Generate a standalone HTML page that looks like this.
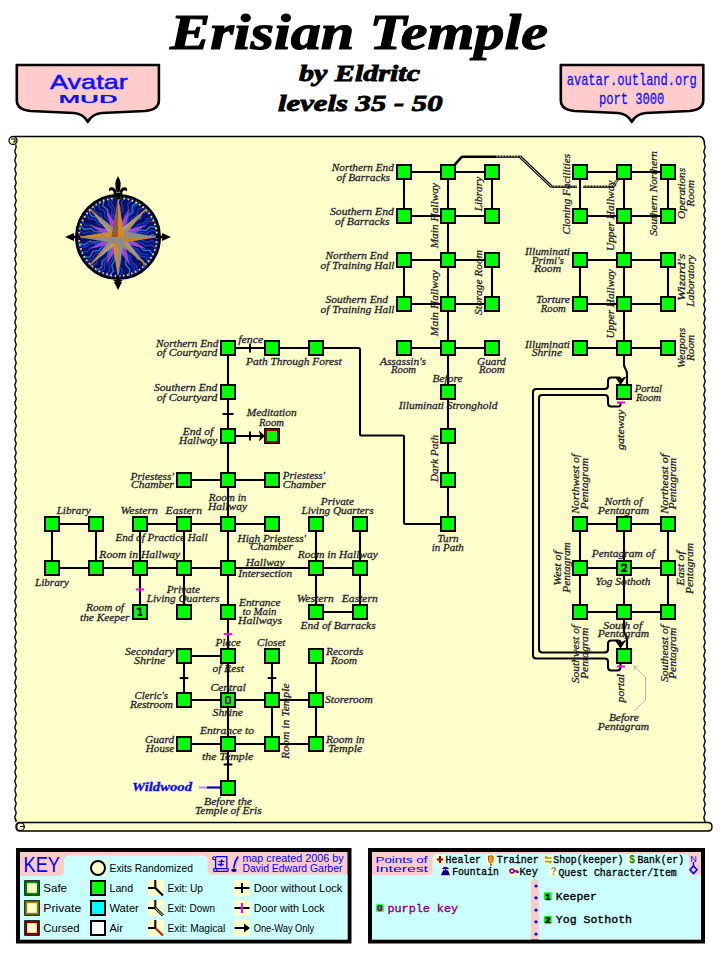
<!DOCTYPE html><html><head><meta charset="utf-8"><style>html,body{margin:0;padding:0;background:#fff;}svg{display:block}</style></head><body>
<svg width="720" height="960" viewBox="0 0 720 960">
<text x="170" y="48.6" font-family='"Liberation Serif", serif' font-size="50" font-style="italic" font-weight="bold" fill="#000" stroke="#000" stroke-width="1.1" textLength="378" lengthAdjust="spacingAndGlyphs">Erisian Temple</text>
<text x="299" y="80.5" font-family='"Liberation Serif", serif' font-size="24" font-style="italic" font-weight="bold" fill="#000" stroke="#000" stroke-width="0.9" textLength="121" lengthAdjust="spacingAndGlyphs">by Eldritc</text>
<text x="278" y="111" font-family='"Liberation Serif", serif' font-size="24" font-style="italic" font-weight="bold" fill="#000" stroke="#000" stroke-width="0.9" textLength="164.5" lengthAdjust="spacingAndGlyphs">levels 35 - 50</text>
<path d="M16.8,65 L158.9,65 L158.9,100 Q158.9,110 144.9,111 L101.8,113 Q91.8,114 87.8,122 Q83.8,114 73.8,113 L30.8,111 Q16.8,110 16.8,100 Z" fill="#ffcccc" stroke="#000" stroke-width="2.6" stroke-linejoin="round"/>
<path d="M560.8,65 L703.3,65 L703.3,100 Q703.3,110 689.3,111 L645.8,113 Q635.8,114 631.8,122 Q627.8,114 617.8,113 L574.8,111 Q560.8,110 560.8,100 Z" fill="#ffcccc" stroke="#000" stroke-width="2.6" stroke-linejoin="round"/>
<text x="50" y="89.4" font-family='"Liberation Sans", sans-serif' font-size="21" fill="#1010ff" stroke="#1010ff" stroke-width="0.5" textLength="77.8" lengthAdjust="spacingAndGlyphs">Avatar</text>
<text x="58.4" y="103.4" font-family='"Liberation Sans", sans-serif' font-size="11.6" font-weight="bold" fill="#1010ff" textLength="59.4" lengthAdjust="spacingAndGlyphs">MUD</text>
<text x="566.7" y="85" font-family='"Liberation Mono", monospace' font-size="17" fill="#1010ff" stroke="#1010ff" stroke-width="0.3" textLength="130" lengthAdjust="spacingAndGlyphs">avatar.outland.org</text>
<text x="598.9" y="103.9" font-family='"Liberation Mono", monospace' font-size="17" fill="#1010ff" stroke="#1010ff" stroke-width="0.3" textLength="65.5" lengthAdjust="spacingAndGlyphs">port 3000</text>
<path d="M15.5,136 L700,136 Q704.5,136 704.5,142 L704.5,822 L15.5,822 Z" fill="#ffffcc"/>
<line x1="15" y1="136.5" x2="700" y2="136.5" stroke="#000" stroke-width="1.6"/>
<path d="M700,136.5 Q704.5,137 704.5,145" fill="none" stroke="#000" stroke-width="1.6"/>
<path d="M15.5,144.5 Q16.7,146.75 15.5,149.0 Q14.3,151.25 15.5,153.5 Q16.7,155.75 15.5,158.0 Q14.3,160.25 15.5,162.5 Q16.7,164.75 15.5,167.0 Q14.3,169.25 15.5,171.5 Q16.7,173.75 15.5,176.0 Q14.3,178.25 15.5,180.5 Q16.7,182.75 15.5,185.0 Q14.3,187.25 15.5,189.5 Q16.7,191.75 15.5,194.0 Q14.3,196.25 15.5,198.5 Q16.7,200.75 15.5,203.0 Q14.3,205.25 15.5,207.5 Q16.7,209.75 15.5,212.0 Q14.3,214.25 15.5,216.5 Q16.7,218.75 15.5,221.0 Q14.3,223.25 15.5,225.5 Q16.7,227.75 15.5,230.0 Q14.3,232.25 15.5,234.5 Q16.7,236.75 15.5,239.0 Q14.3,241.25 15.5,243.5 Q16.7,245.75 15.5,248.0 Q14.3,250.25 15.5,252.5 Q16.7,254.75 15.5,257.0 Q14.3,259.25 15.5,261.5 Q16.7,263.75 15.5,266.0 Q14.3,268.25 15.5,270.5 Q16.7,272.75 15.5,275.0 Q14.3,277.25 15.5,279.5 Q16.7,281.75 15.5,284.0 Q14.3,286.25 15.5,288.5 Q16.7,290.75 15.5,293.0 Q14.3,295.25 15.5,297.5 Q16.7,299.75 15.5,302.0 Q14.3,304.25 15.5,306.5 Q16.7,308.75 15.5,311.0 Q14.3,313.25 15.5,315.5 Q16.7,317.75 15.5,320.0 Q14.3,322.25 15.5,324.5 Q16.7,326.75 15.5,329.0 Q14.3,331.25 15.5,333.5 Q16.7,335.75 15.5,338.0 Q14.3,340.25 15.5,342.5 Q16.7,344.75 15.5,347.0 Q14.3,349.25 15.5,351.5 Q16.7,353.75 15.5,356.0 Q14.3,358.25 15.5,360.5 Q16.7,362.75 15.5,365.0 Q14.3,367.25 15.5,369.5 Q16.7,371.75 15.5,374.0 Q14.3,376.25 15.5,378.5 Q16.7,380.75 15.5,383.0 Q14.3,385.25 15.5,387.5 Q16.7,389.75 15.5,392.0 Q14.3,394.25 15.5,396.5 Q16.7,398.75 15.5,401.0 Q14.3,403.25 15.5,405.5 Q16.7,407.75 15.5,410.0 Q14.3,412.25 15.5,414.5 Q16.7,416.75 15.5,419.0 Q14.3,421.25 15.5,423.5 Q16.7,425.75 15.5,428.0 Q14.3,430.25 15.5,432.5 Q16.7,434.75 15.5,437.0 Q14.3,439.25 15.5,441.5 Q16.7,443.75 15.5,446.0 Q14.3,448.25 15.5,450.5 Q16.7,452.75 15.5,455.0 Q14.3,457.25 15.5,459.5 Q16.7,461.75 15.5,464.0 Q14.3,466.25 15.5,468.5 Q16.7,470.75 15.5,473.0 Q14.3,475.25 15.5,477.5 Q16.7,479.75 15.5,482.0 Q14.3,484.25 15.5,486.5 Q16.7,488.75 15.5,491.0 Q14.3,493.25 15.5,495.5 Q16.7,497.75 15.5,500.0 Q14.3,502.25 15.5,504.5 Q16.7,506.75 15.5,509.0 Q14.3,511.25 15.5,513.5 Q16.7,515.75 15.5,518.0 Q14.3,520.25 15.5,522.5 Q16.7,524.75 15.5,527.0 Q14.3,529.25 15.5,531.5 Q16.7,533.75 15.5,536.0 Q14.3,538.25 15.5,540.5 Q16.7,542.75 15.5,545.0 Q14.3,547.25 15.5,549.5 Q16.7,551.75 15.5,554.0 Q14.3,556.25 15.5,558.5 Q16.7,560.75 15.5,563.0 Q14.3,565.25 15.5,567.5 Q16.7,569.75 15.5,572.0 Q14.3,574.25 15.5,576.5 Q16.7,578.75 15.5,581.0 Q14.3,583.25 15.5,585.5 Q16.7,587.75 15.5,590.0 Q14.3,592.25 15.5,594.5 Q16.7,596.75 15.5,599.0 Q14.3,601.25 15.5,603.5 Q16.7,605.75 15.5,608.0 Q14.3,610.25 15.5,612.5 Q16.7,614.75 15.5,617.0 Q14.3,619.25 15.5,621.5 Q16.7,623.75 15.5,626.0 Q14.3,628.25 15.5,630.5 Q16.7,632.75 15.5,635.0 Q14.3,637.25 15.5,639.5 Q16.7,641.75 15.5,644.0 Q14.3,646.25 15.5,648.5 Q16.7,650.75 15.5,653.0 Q14.3,655.25 15.5,657.5 Q16.7,659.75 15.5,662.0 Q14.3,664.25 15.5,666.5 Q16.7,668.75 15.5,671.0 Q14.3,673.25 15.5,675.5 Q16.7,677.75 15.5,680.0 Q14.3,682.25 15.5,684.5 Q16.7,686.75 15.5,689.0 Q14.3,691.25 15.5,693.5 Q16.7,695.75 15.5,698.0 Q14.3,700.25 15.5,702.5 Q16.7,704.75 15.5,707.0 Q14.3,709.25 15.5,711.5 Q16.7,713.75 15.5,716.0 Q14.3,718.25 15.5,720.5 Q16.7,722.75 15.5,725.0 Q14.3,727.25 15.5,729.5 Q16.7,731.75 15.5,734.0 Q14.3,736.25 15.5,738.5 Q16.7,740.75 15.5,743.0 Q14.3,745.25 15.5,747.5 Q16.7,749.75 15.5,752.0 Q14.3,754.25 15.5,756.5 Q16.7,758.75 15.5,761.0 Q14.3,763.25 15.5,765.5 Q16.7,767.75 15.5,770.0 Q14.3,772.25 15.5,774.5 Q16.7,776.75 15.5,779.0 Q14.3,781.25 15.5,783.5 Q16.7,785.75 15.5,788.0 Q14.3,790.25 15.5,792.5 Q16.7,794.75 15.5,797.0 Q14.3,799.25 15.5,801.5 Q16.7,803.75 15.5,806.0 Q14.3,808.25 15.5,810.5 Q16.7,812.75 15.5,815.0 Q14.3,817.25 15.5,819.5 Q16.7,820.75 15.5,822" fill="none" stroke="#000" stroke-width="1.4"/>
<path d="M704.5,145 Q705.7,147.25 704.5,149.5 Q703.3,151.75 704.5,154.0 Q705.7,156.25 704.5,158.5 Q703.3,160.75 704.5,163.0 Q705.7,165.25 704.5,167.5 Q703.3,169.75 704.5,172.0 Q705.7,174.25 704.5,176.5 Q703.3,178.75 704.5,181.0 Q705.7,183.25 704.5,185.5 Q703.3,187.75 704.5,190.0 Q705.7,192.25 704.5,194.5 Q703.3,196.75 704.5,199.0 Q705.7,201.25 704.5,203.5 Q703.3,205.75 704.5,208.0 Q705.7,210.25 704.5,212.5 Q703.3,214.75 704.5,217.0 Q705.7,219.25 704.5,221.5 Q703.3,223.75 704.5,226.0 Q705.7,228.25 704.5,230.5 Q703.3,232.75 704.5,235.0 Q705.7,237.25 704.5,239.5 Q703.3,241.75 704.5,244.0 Q705.7,246.25 704.5,248.5 Q703.3,250.75 704.5,253.0 Q705.7,255.25 704.5,257.5 Q703.3,259.75 704.5,262.0 Q705.7,264.25 704.5,266.5 Q703.3,268.75 704.5,271.0 Q705.7,273.25 704.5,275.5 Q703.3,277.75 704.5,280.0 Q705.7,282.25 704.5,284.5 Q703.3,286.75 704.5,289.0 Q705.7,291.25 704.5,293.5 Q703.3,295.75 704.5,298.0 Q705.7,300.25 704.5,302.5 Q703.3,304.75 704.5,307.0 Q705.7,309.25 704.5,311.5 Q703.3,313.75 704.5,316.0 Q705.7,318.25 704.5,320.5 Q703.3,322.75 704.5,325.0 Q705.7,327.25 704.5,329.5 Q703.3,331.75 704.5,334.0 Q705.7,336.25 704.5,338.5 Q703.3,340.75 704.5,343.0 Q705.7,345.25 704.5,347.5 Q703.3,349.75 704.5,352.0 Q705.7,354.25 704.5,356.5 Q703.3,358.75 704.5,361.0 Q705.7,363.25 704.5,365.5 Q703.3,367.75 704.5,370.0 Q705.7,372.25 704.5,374.5 Q703.3,376.75 704.5,379.0 Q705.7,381.25 704.5,383.5 Q703.3,385.75 704.5,388.0 Q705.7,390.25 704.5,392.5 Q703.3,394.75 704.5,397.0 Q705.7,399.25 704.5,401.5 Q703.3,403.75 704.5,406.0 Q705.7,408.25 704.5,410.5 Q703.3,412.75 704.5,415.0 Q705.7,417.25 704.5,419.5 Q703.3,421.75 704.5,424.0 Q705.7,426.25 704.5,428.5 Q703.3,430.75 704.5,433.0 Q705.7,435.25 704.5,437.5 Q703.3,439.75 704.5,442.0 Q705.7,444.25 704.5,446.5 Q703.3,448.75 704.5,451.0 Q705.7,453.25 704.5,455.5 Q703.3,457.75 704.5,460.0 Q705.7,462.25 704.5,464.5 Q703.3,466.75 704.5,469.0 Q705.7,471.25 704.5,473.5 Q703.3,475.75 704.5,478.0 Q705.7,480.25 704.5,482.5 Q703.3,484.75 704.5,487.0 Q705.7,489.25 704.5,491.5 Q703.3,493.75 704.5,496.0 Q705.7,498.25 704.5,500.5 Q703.3,502.75 704.5,505.0 Q705.7,507.25 704.5,509.5 Q703.3,511.75 704.5,514.0 Q705.7,516.25 704.5,518.5 Q703.3,520.75 704.5,523.0 Q705.7,525.25 704.5,527.5 Q703.3,529.75 704.5,532.0 Q705.7,534.25 704.5,536.5 Q703.3,538.75 704.5,541.0 Q705.7,543.25 704.5,545.5 Q703.3,547.75 704.5,550.0 Q705.7,552.25 704.5,554.5 Q703.3,556.75 704.5,559.0 Q705.7,561.25 704.5,563.5 Q703.3,565.75 704.5,568.0 Q705.7,570.25 704.5,572.5 Q703.3,574.75 704.5,577.0 Q705.7,579.25 704.5,581.5 Q703.3,583.75 704.5,586.0 Q705.7,588.25 704.5,590.5 Q703.3,592.75 704.5,595.0 Q705.7,597.25 704.5,599.5 Q703.3,601.75 704.5,604.0 Q705.7,606.25 704.5,608.5 Q703.3,610.75 704.5,613.0 Q705.7,615.25 704.5,617.5 Q703.3,619.75 704.5,622.0 Q705.7,624.25 704.5,626.5 Q703.3,628.75 704.5,631.0 Q705.7,633.25 704.5,635.5 Q703.3,637.75 704.5,640.0 Q705.7,642.25 704.5,644.5 Q703.3,646.75 704.5,649.0 Q705.7,651.25 704.5,653.5 Q703.3,655.75 704.5,658.0 Q705.7,660.25 704.5,662.5 Q703.3,664.75 704.5,667.0 Q705.7,669.25 704.5,671.5 Q703.3,673.75 704.5,676.0 Q705.7,678.25 704.5,680.5 Q703.3,682.75 704.5,685.0 Q705.7,687.25 704.5,689.5 Q703.3,691.75 704.5,694.0 Q705.7,696.25 704.5,698.5 Q703.3,700.75 704.5,703.0 Q705.7,705.25 704.5,707.5 Q703.3,709.75 704.5,712.0 Q705.7,714.25 704.5,716.5 Q703.3,718.75 704.5,721.0 Q705.7,723.25 704.5,725.5 Q703.3,727.75 704.5,730.0 Q705.7,732.25 704.5,734.5 Q703.3,736.75 704.5,739.0 Q705.7,741.25 704.5,743.5 Q703.3,745.75 704.5,748.0 Q705.7,750.25 704.5,752.5 Q703.3,754.75 704.5,757.0 Q705.7,759.25 704.5,761.5 Q703.3,763.75 704.5,766.0 Q705.7,768.25 704.5,770.5 Q703.3,772.75 704.5,775.0 Q705.7,777.25 704.5,779.5 Q703.3,781.75 704.5,784.0 Q705.7,786.25 704.5,788.5 Q703.3,790.75 704.5,793.0 Q705.7,795.25 704.5,797.5 Q703.3,799.75 704.5,802.0 Q705.7,804.25 704.5,806.5 Q703.3,808.75 704.5,811.0 Q705.7,813.25 704.5,815.5 Q703.3,817.75 704.5,820.0 Q705.7,821.0 704.5,822" fill="none" stroke="#000" stroke-width="1.4"/>
<circle cx="13" cy="140.5" r="4" fill="#ffffcc" stroke="#000" stroke-width="1.3"/>
<path d="M11,139 L15,139 L15,142 L13,142" fill="none" stroke="#000" stroke-width="1.1"/>
<path d="M18,822.5 L708,822.5 Q712,822.5 712,826.7 Q712,831 708,831 L20,831 Q16,831 16,826.7 Q16,822.5 20,822.5 Z" fill="#ffffcc" stroke="#000" stroke-width="1.4"/>
<circle cx="20.5" cy="826.7" r="3.8" fill="#ffffcc" stroke="#000" stroke-width="1.2"/>
<path d="M20,826.5 L24,826.5" stroke="#000" stroke-width="1.1"/>
<path d="M404,172 L492,172" fill="none" stroke="#000" stroke-width="2.1" stroke-linejoin="round"/>
<path d="M404,216 L492,216" fill="none" stroke="#000" stroke-width="2.1" stroke-linejoin="round"/>
<path d="M404,260 L492,260" fill="none" stroke="#000" stroke-width="2.1" stroke-linejoin="round"/>
<path d="M404,304 L492,304" fill="none" stroke="#000" stroke-width="2.1" stroke-linejoin="round"/>
<path d="M404,348 L492,348" fill="none" stroke="#000" stroke-width="2.1" stroke-linejoin="round"/>
<path d="M404,172 L404,216" fill="none" stroke="#000" stroke-width="2.1" stroke-linejoin="round"/>
<path d="M492,172 L492,216" fill="none" stroke="#000" stroke-width="2.1" stroke-linejoin="round"/>
<path d="M404,260 L404,304" fill="none" stroke="#000" stroke-width="2.1" stroke-linejoin="round"/>
<path d="M492,260 L492,304" fill="none" stroke="#000" stroke-width="2.1" stroke-linejoin="round"/>
<path d="M448,172 L448,348" fill="none" stroke="#000" stroke-width="2.1" stroke-linejoin="round"/>
<path d="M580,172 L668,172" fill="none" stroke="#000" stroke-width="2.1" stroke-linejoin="round"/>
<path d="M580,216 L668,216" fill="none" stroke="#000" stroke-width="2.1" stroke-linejoin="round"/>
<path d="M580,260 L668,260" fill="none" stroke="#000" stroke-width="2.1" stroke-linejoin="round"/>
<path d="M580,304 L668,304" fill="none" stroke="#000" stroke-width="2.1" stroke-linejoin="round"/>
<path d="M580,348 L668,348" fill="none" stroke="#000" stroke-width="2.1" stroke-linejoin="round"/>
<path d="M580,172 L580,216" fill="none" stroke="#000" stroke-width="2.1" stroke-linejoin="round"/>
<path d="M668,172 L668,216" fill="none" stroke="#000" stroke-width="2.1" stroke-linejoin="round"/>
<path d="M580,260 L580,304" fill="none" stroke="#000" stroke-width="2.1" stroke-linejoin="round"/>
<path d="M668,260 L668,304" fill="none" stroke="#000" stroke-width="2.1" stroke-linejoin="round"/>
<path d="M624,172 L624,348" fill="none" stroke="#000" stroke-width="2.1" stroke-linejoin="round"/>
<path d="M448,348 L448,524" fill="none" stroke="#000" stroke-width="2.1" stroke-linejoin="round"/>
<path d="M624,348 L624.00,364.50 Q624,366 624.67,367.34 L626.33,370.66 Q627,372 627.00,373.50 L627,386" fill="none" stroke="#000" stroke-width="2.1" stroke-linejoin="round"/>
<path d="M228,348 L314.80,348.00 Q316,348 317.20,348.00 L358.80,348.00 Q360,348 360.00,349.20 L360.00,434.30 Q360,435.5 361.20,435.50 L402.80,435.50 Q404,435.5 404.00,436.70 L404.00,522.80 Q404,524 405.20,524.00 L448,524" fill="none" stroke="#000" stroke-width="2.1" stroke-linejoin="round"/>
<path d="M228,348 L228,788" fill="none" stroke="#000" stroke-width="2.1" stroke-linejoin="round"/>
<path d="M228,436 L262,436" fill="none" stroke="#000" stroke-width="2.1" stroke-linejoin="round"/>
<path d="M184,480 L272,480" fill="none" stroke="#000" stroke-width="2.1" stroke-linejoin="round"/>
<path d="M52,524 L96,524" fill="none" stroke="#000" stroke-width="2.1" stroke-linejoin="round"/>
<path d="M140,524 L272,524" fill="none" stroke="#000" stroke-width="2.1" stroke-linejoin="round"/>
<path d="M316,524 L316,612" fill="none" stroke="#000" stroke-width="2.1" stroke-linejoin="round"/>
<path d="M360,524 L360,612" fill="none" stroke="#000" stroke-width="2.1" stroke-linejoin="round"/>
<path d="M52,524 L52,568" fill="none" stroke="#000" stroke-width="2.1" stroke-linejoin="round"/>
<path d="M96,524 L96,568" fill="none" stroke="#000" stroke-width="2.1" stroke-linejoin="round"/>
<path d="M140,524 L140,612" fill="none" stroke="#000" stroke-width="2.1" stroke-linejoin="round"/>
<path d="M184,524 L184,612" fill="none" stroke="#000" stroke-width="2.1" stroke-linejoin="round"/>
<path d="M52,568 L360,568" fill="none" stroke="#000" stroke-width="2.1" stroke-linejoin="round"/>
<path d="M316,612 L360,612" fill="none" stroke="#000" stroke-width="2.1" stroke-linejoin="round"/>
<path d="M184,656 L228,656" fill="none" stroke="#000" stroke-width="2.1" stroke-linejoin="round"/>
<path d="M184,656 L184,700" fill="none" stroke="#000" stroke-width="2.1" stroke-linejoin="round"/>
<path d="M272,656 L272,744" fill="none" stroke="#000" stroke-width="2.1" stroke-linejoin="round"/>
<path d="M316,656 L316,744" fill="none" stroke="#000" stroke-width="2.1" stroke-linejoin="round"/>
<path d="M184,700 L316,700" fill="none" stroke="#000" stroke-width="2.1" stroke-linejoin="round"/>
<path d="M184,744 L316,744" fill="none" stroke="#000" stroke-width="2.1" stroke-linejoin="round"/>
<path d="M580,524 L668,524" fill="none" stroke="#000" stroke-width="2.1" stroke-linejoin="round"/>
<path d="M580,568 L668,568" fill="none" stroke="#000" stroke-width="2.1" stroke-linejoin="round"/>
<path d="M580,612 L668,612" fill="none" stroke="#000" stroke-width="2.1" stroke-linejoin="round"/>
<path d="M580,524 L580,612" fill="none" stroke="#000" stroke-width="2.1" stroke-linejoin="round"/>
<path d="M624,524 L624,612" fill="none" stroke="#000" stroke-width="2.1" stroke-linejoin="round"/>
<path d="M668,524 L668,612" fill="none" stroke="#000" stroke-width="2.1" stroke-linejoin="round"/>
<path d="M624,612 L624.00,630.50 Q624,632 624.67,633.34 L626.33,636.66 Q627,638 627.00,639.50 L627,650" fill="none" stroke="#000" stroke-width="2.1" stroke-linejoin="round"/>
<path d="M620.5,402.5 L620.50,404.50 Q620.5,406.5 618.50,406.50 L611.20,406.50 Q608,406.5 608.00,403.30 L608.00,398.20 Q608,395 604.80,395.00 L542.20,395.00 Q539,395 539.00,398.20 L539.00,649.30 Q539,652.5 542.20,652.50 L604.80,652.50 Q608,652.5 608.00,649.30 L608.00,643.70 Q608,640.5 611.20,640.50 L618.25,640.50 Q620.5,640.5 620.50,642.75 L620.5,645" fill="none" stroke="#000" stroke-width="2.1" stroke-linejoin="round"/>
<path d="M620.5,664 L620.50,667.30 Q620.5,670.5 617.30,670.50 L611.20,670.50 Q608,670.5 608.00,667.30 L608.00,661.70 Q608,658.5 604.80,658.50 L536.20,658.50 Q533,658.5 533.00,655.30 L533.00,392.20 Q533,389 536.20,389.00 L604.80,389.00 Q608,389 608.00,385.80 L608.00,380.70 Q608,377.5 611.20,377.50 L618.75,377.50 Q620.5,377.5 620.50,379.25 L620.5,381" fill="none" stroke="#000" stroke-width="2.1" stroke-linejoin="round"/>
<path d="M615.5,377.0 L620.5,379.5 L625.5,377.0 L620.5,384.5 Z" fill="#000" stroke="#000" stroke-width="0.9" stroke-linejoin="round"/>
<path d="M615.5,640.5 L620.5,643 L625.5,640.5 L620.5,648 Z" fill="#000" stroke="#000" stroke-width="0.9" stroke-linejoin="round"/>
<line x1="617" y1="402.5" x2="625" y2="402.5" stroke="#ff00ff" stroke-width="2"/>
<line x1="617" y1="666.5" x2="625" y2="666.5" stroke="#ff00ff" stroke-width="2"/>
<path d="M634,711 L645.5,700 L645.5,677 L634,666.5" fill="none" stroke="#aaaaaa" stroke-width="0.9"/>
<path d="M637.5,666.7 L634,666.5 L634.5,670" fill="none" stroke="#aaaaaa" stroke-width="0.9"/>
<path d="M453.5,166 L461.33,157.44 Q462,156.7 463.00,156.70 L497,156.7" fill="none" stroke="#000" stroke-width="2.6" stroke-linejoin="round"/>
<path d="M496,156.7 L521,156.7" stroke="#000" stroke-width="2.2"/>
<path d="M496,156.1 L521,156.1" stroke="#ffffcc" stroke-width="0.9" stroke-dasharray="1.6,1.4"/>
<path d="M551,186.7 L577,186.7" stroke="#000" stroke-width="2.2"/>
<path d="M551,186.1 L577,186.1" stroke="#ffffcc" stroke-width="0.9" stroke-dasharray="1.6,1.4"/>
<path d="M583,186.7 L614,186.7" stroke="#000" stroke-width="2.2"/>
<path d="M583,186.1 L614,186.1" stroke="#ffffcc" stroke-width="0.9" stroke-dasharray="1.6,1.4"/>
<path d="M520,156.7 L551.5,186.7" stroke="#000" stroke-width="3"/>
<path d="M520,156.7 L551.5,186.7" stroke="#ffffcc" stroke-width="0.9"/>
<path d="M613,186.7 L619,177.5" stroke="#222" stroke-width="2.4"/>
<path d="M613,186.7 L619,177.5" stroke="#e8e8d0" stroke-width="1"/>
<line x1="250" y1="343.5" x2="250" y2="352.5" stroke="#000" stroke-width="2"/>
<line x1="222.5" y1="414" x2="233.5" y2="414" stroke="#000" stroke-width="2"/>
<line x1="250" y1="431.5" x2="250" y2="440.5" stroke="#000" stroke-width="2"/>
<line x1="179.7" y1="678" x2="188.3" y2="678" stroke="#000" stroke-width="2"/>
<line x1="267.7" y1="678" x2="276.3" y2="678" stroke="#000" stroke-width="2"/>
<line x1="223.7" y1="764.5" x2="232.3" y2="764.5" stroke="#000" stroke-width="2"/>
<path d="M259.5,431.5 L264.5,436 L259.5,440.5 L261,436 Z" fill="#000" stroke="#000" stroke-width="1" stroke-linejoin="round"/>
<line x1="135.8" y1="589.5" x2="144.2" y2="589.5" stroke="#ff00ff" stroke-width="2"/>
<line x1="223.8" y1="634" x2="232.2" y2="634" stroke="#ff00ff" stroke-width="2"/>
<line x1="199" y1="787.5" x2="207" y2="787.5" stroke="#9999ff" stroke-width="2"/>
<line x1="207" y1="787.5" x2="222" y2="787.5" stroke="#0000cc" stroke-width="2.2"/>
<rect x="397" y="165" width="14" height="14" fill="#00ff00" stroke="#000" stroke-width="2"/>
<rect x="397" y="209" width="14" height="14" fill="#00ff00" stroke="#000" stroke-width="2"/>
<rect x="397" y="253" width="14" height="14" fill="#00ff00" stroke="#000" stroke-width="2"/>
<rect x="397" y="297" width="14" height="14" fill="#00ff00" stroke="#000" stroke-width="2"/>
<rect x="397" y="341" width="14" height="14" fill="#00ff00" stroke="#000" stroke-width="2"/>
<rect x="441" y="165" width="14" height="14" fill="#00ff00" stroke="#000" stroke-width="2"/>
<rect x="441" y="209" width="14" height="14" fill="#00ff00" stroke="#000" stroke-width="2"/>
<rect x="441" y="253" width="14" height="14" fill="#00ff00" stroke="#000" stroke-width="2"/>
<rect x="441" y="297" width="14" height="14" fill="#00ff00" stroke="#000" stroke-width="2"/>
<rect x="441" y="341" width="14" height="14" fill="#00ff00" stroke="#000" stroke-width="2"/>
<rect x="485" y="165" width="14" height="14" fill="#00ff00" stroke="#000" stroke-width="2"/>
<rect x="485" y="209" width="14" height="14" fill="#00ff00" stroke="#000" stroke-width="2"/>
<rect x="485" y="253" width="14" height="14" fill="#00ff00" stroke="#000" stroke-width="2"/>
<rect x="485" y="297" width="14" height="14" fill="#00ff00" stroke="#000" stroke-width="2"/>
<rect x="485" y="341" width="14" height="14" fill="#00ff00" stroke="#000" stroke-width="2"/>
<rect x="573" y="165" width="14" height="14" fill="#00ff00" stroke="#000" stroke-width="2"/>
<rect x="573" y="209" width="14" height="14" fill="#00ff00" stroke="#000" stroke-width="2"/>
<rect x="573" y="253" width="14" height="14" fill="#00ff00" stroke="#000" stroke-width="2"/>
<rect x="573" y="297" width="14" height="14" fill="#00ff00" stroke="#000" stroke-width="2"/>
<rect x="573" y="341" width="14" height="14" fill="#00ff00" stroke="#000" stroke-width="2"/>
<rect x="617" y="165" width="14" height="14" fill="#00ff00" stroke="#000" stroke-width="2"/>
<rect x="617" y="209" width="14" height="14" fill="#00ff00" stroke="#000" stroke-width="2"/>
<rect x="617" y="253" width="14" height="14" fill="#00ff00" stroke="#000" stroke-width="2"/>
<rect x="617" y="297" width="14" height="14" fill="#00ff00" stroke="#000" stroke-width="2"/>
<rect x="617" y="341" width="14" height="14" fill="#00ff00" stroke="#000" stroke-width="2"/>
<rect x="661" y="165" width="14" height="14" fill="#00ff00" stroke="#000" stroke-width="2"/>
<rect x="661" y="209" width="14" height="14" fill="#00ff00" stroke="#000" stroke-width="2"/>
<rect x="661" y="253" width="14" height="14" fill="#00ff00" stroke="#000" stroke-width="2"/>
<rect x="661" y="297" width="14" height="14" fill="#00ff00" stroke="#000" stroke-width="2"/>
<rect x="661" y="341" width="14" height="14" fill="#00ff00" stroke="#000" stroke-width="2"/>
<rect x="617" y="385" width="14" height="14" fill="#00ff00" stroke="#000" stroke-width="2"/>
<rect x="441" y="385" width="14" height="14" fill="#00ff00" stroke="#000" stroke-width="2"/>
<rect x="441" y="429" width="14" height="14" fill="#00ff00" stroke="#000" stroke-width="2"/>
<rect x="441" y="473" width="14" height="14" fill="#00ff00" stroke="#000" stroke-width="2"/>
<rect x="441" y="517" width="14" height="14" fill="#00ff00" stroke="#000" stroke-width="2"/>
<rect x="221" y="341" width="14" height="14" fill="#00ff00" stroke="#000" stroke-width="2"/>
<rect x="265" y="341" width="14" height="14" fill="#00ff00" stroke="#000" stroke-width="2"/>
<rect x="309" y="341" width="14" height="14" fill="#00ff00" stroke="#000" stroke-width="2"/>
<rect x="221" y="385" width="14" height="14" fill="#00ff00" stroke="#000" stroke-width="2"/>
<rect x="221" y="429" width="14" height="14" fill="#00ff00" stroke="#000" stroke-width="2"/>
<rect x="264" y="428" width="16" height="16" fill="#000"/>
<rect x="265" y="429" width="14" height="14" fill="#880000"/>
<rect x="267" y="431" width="10" height="10" fill="#00ff00"/>
<rect x="177" y="473" width="14" height="14" fill="#00ff00" stroke="#000" stroke-width="2"/>
<rect x="221" y="473" width="14" height="14" fill="#00ff00" stroke="#000" stroke-width="2"/>
<rect x="265" y="473" width="14" height="14" fill="#00ff00" stroke="#000" stroke-width="2"/>
<rect x="45" y="517" width="14" height="14" fill="#00ff00" stroke="#000" stroke-width="2"/>
<rect x="89" y="517" width="14" height="14" fill="#00ff00" stroke="#000" stroke-width="2"/>
<rect x="133" y="517" width="14" height="14" fill="#00ff00" stroke="#000" stroke-width="2"/>
<rect x="177" y="517" width="14" height="14" fill="#00ff00" stroke="#000" stroke-width="2"/>
<rect x="221" y="517" width="14" height="14" fill="#00ff00" stroke="#000" stroke-width="2"/>
<rect x="265" y="517" width="14" height="14" fill="#00ff00" stroke="#000" stroke-width="2"/>
<rect x="309" y="517" width="14" height="14" fill="#00ff00" stroke="#000" stroke-width="2"/>
<rect x="353" y="517" width="14" height="14" fill="#00ff00" stroke="#000" stroke-width="2"/>
<rect x="45" y="561" width="14" height="14" fill="#00ff00" stroke="#000" stroke-width="2"/>
<rect x="89" y="561" width="14" height="14" fill="#00ff00" stroke="#000" stroke-width="2"/>
<rect x="133" y="561" width="14" height="14" fill="#00ff00" stroke="#000" stroke-width="2"/>
<rect x="177" y="561" width="14" height="14" fill="#00ff00" stroke="#000" stroke-width="2"/>
<rect x="221" y="561" width="14" height="14" fill="#00ff00" stroke="#000" stroke-width="2"/>
<rect x="309" y="561" width="14" height="14" fill="#00ff00" stroke="#000" stroke-width="2"/>
<rect x="353" y="561" width="14" height="14" fill="#00ff00" stroke="#000" stroke-width="2"/>
<rect x="133" y="605" width="14" height="14" fill="#00ff00" stroke="#000" stroke-width="2"/>
<path d="M137,609.5 L138.8,608.4 L140.3,608.4 L140.3,615 M137.8,615.1 L142.2,615.1" fill="none" stroke="#000" stroke-width="1.8"/>
<rect x="177" y="605" width="14" height="14" fill="#00ff00" stroke="#000" stroke-width="2"/>
<rect x="221" y="605" width="14" height="14" fill="#00ff00" stroke="#000" stroke-width="2"/>
<rect x="309" y="605" width="14" height="14" fill="#00ff00" stroke="#000" stroke-width="2"/>
<rect x="353" y="605" width="14" height="14" fill="#00ff00" stroke="#000" stroke-width="2"/>
<rect x="177" y="649" width="14" height="14" fill="#00ff00" stroke="#000" stroke-width="2"/>
<rect x="221" y="649" width="14" height="14" fill="#00ff00" stroke="#000" stroke-width="2"/>
<rect x="265" y="649" width="14" height="14" fill="#00ff00" stroke="#000" stroke-width="2"/>
<rect x="309" y="649" width="14" height="14" fill="#00ff00" stroke="#000" stroke-width="2"/>
<rect x="177" y="693" width="14" height="14" fill="#00ff00" stroke="#000" stroke-width="2"/>
<rect x="221" y="693" width="14" height="14" fill="#00ff00" stroke="#000" stroke-width="2"/>
<rect x="225.8" y="696.8" width="4.4" height="6.6" rx="1.2" fill="none" stroke="#800080" stroke-width="1.7"/>
<rect x="265" y="693" width="14" height="14" fill="#00ff00" stroke="#000" stroke-width="2"/>
<rect x="309" y="693" width="14" height="14" fill="#00ff00" stroke="#000" stroke-width="2"/>
<rect x="177" y="737" width="14" height="14" fill="#00ff00" stroke="#000" stroke-width="2"/>
<rect x="221" y="737" width="14" height="14" fill="#00ff00" stroke="#000" stroke-width="2"/>
<rect x="265" y="737" width="14" height="14" fill="#00ff00" stroke="#000" stroke-width="2"/>
<rect x="309" y="737" width="14" height="14" fill="#00ff00" stroke="#000" stroke-width="2"/>
<rect x="221" y="781" width="14" height="14" fill="#00ff00" stroke="#000" stroke-width="2"/>
<rect x="573" y="517" width="14" height="14" fill="#00ff00" stroke="#000" stroke-width="2"/>
<rect x="573" y="561" width="14" height="14" fill="#00ff00" stroke="#000" stroke-width="2"/>
<rect x="573" y="605" width="14" height="14" fill="#00ff00" stroke="#000" stroke-width="2"/>
<rect x="617" y="517" width="14" height="14" fill="#00ff00" stroke="#000" stroke-width="2"/>
<rect x="617" y="561" width="14" height="14" fill="#00ff00" stroke="#000" stroke-width="2"/>
<path d="M621.7,566.4 Q621.7,564.5 624,564.5 Q626.3,564.5 626.3,566.4 Q626.3,567.6 624.6,568.8 L621.9,571 L626.8,571" fill="none" stroke="#000" stroke-width="1.8" stroke-linejoin="round"/>
<rect x="617" y="605" width="14" height="14" fill="#00ff00" stroke="#000" stroke-width="2"/>
<rect x="661" y="517" width="14" height="14" fill="#00ff00" stroke="#000" stroke-width="2"/>
<rect x="661" y="561" width="14" height="14" fill="#00ff00" stroke="#000" stroke-width="2"/>
<rect x="661" y="605" width="14" height="14" fill="#00ff00" stroke="#000" stroke-width="2"/>
<rect x="617" y="649" width="14" height="14" fill="#00ff00" stroke="#000" stroke-width="2"/>
<text x="362.8" y="171.2" text-anchor="middle" font-family='"Liberation Serif", serif' font-size="11.3" font-style="italic" font-weight="normal" fill="#1c1c28" stroke="#1c1c28" stroke-width="0.28" textLength="62.0" lengthAdjust="spacingAndGlyphs">Northern End</text>
<text x="363.2" y="181.1" text-anchor="middle" font-family='"Liberation Serif", serif' font-size="11.3" font-style="italic" font-weight="normal" fill="#1c1c28" stroke="#1c1c28" stroke-width="0.28" textLength="53.5" lengthAdjust="spacingAndGlyphs">of Barracks</text>
<text x="361.9" y="215.2" text-anchor="middle" font-family='"Liberation Serif", serif' font-size="11.3" font-style="italic" font-weight="normal" fill="#1c1c28" stroke="#1c1c28" stroke-width="0.28" textLength="63.8" lengthAdjust="spacingAndGlyphs">Southern End</text>
<text x="362.2" y="224.7" text-anchor="middle" font-family='"Liberation Serif", serif' font-size="11.3" font-style="italic" font-weight="normal" fill="#1c1c28" stroke="#1c1c28" stroke-width="0.28" textLength="54.5" lengthAdjust="spacingAndGlyphs">of Barracks</text>
<text x="356.8" y="259.2" text-anchor="middle" font-family='"Liberation Serif", serif' font-size="11.3" font-style="italic" font-weight="normal" fill="#1c1c28" stroke="#1c1c28" stroke-width="0.28" textLength="62.5" lengthAdjust="spacingAndGlyphs">Northern End</text>
<text x="357.5" y="268.7" text-anchor="middle" font-family='"Liberation Serif", serif' font-size="11.3" font-style="italic" font-weight="normal" fill="#1c1c28" stroke="#1c1c28" stroke-width="0.28" textLength="74.0" lengthAdjust="spacingAndGlyphs">of Training Hall</text>
<text x="356.8" y="303.2" text-anchor="middle" font-family='"Liberation Serif", serif' font-size="11.3" font-style="italic" font-weight="normal" fill="#1c1c28" stroke="#1c1c28" stroke-width="0.28" textLength="62.5" lengthAdjust="spacingAndGlyphs">Southern End</text>
<text x="357.5" y="312.7" text-anchor="middle" font-family='"Liberation Serif", serif' font-size="11.3" font-style="italic" font-weight="normal" fill="#1c1c28" stroke="#1c1c28" stroke-width="0.28" textLength="74.0" lengthAdjust="spacingAndGlyphs">of Training Hall</text>
<text transform="translate(437.8,215.7) rotate(-90)" x="0" y="0" text-anchor="middle" font-family='"Liberation Serif", serif' font-size="11.3" font-style="italic" fill="#1c1c28" stroke="#1c1c28" stroke-width="0.28" textLength="65.3" lengthAdjust="spacingAndGlyphs">Main Hallway</text>
<text transform="translate(437.8,303.2) rotate(-90)" x="0" y="0" text-anchor="middle" font-family='"Liberation Serif", serif' font-size="11.3" font-style="italic" fill="#1c1c28" stroke="#1c1c28" stroke-width="0.28" textLength="65.9" lengthAdjust="spacingAndGlyphs">Main Hallway</text>
<text transform="translate(481.5,194.1) rotate(-90)" x="0" y="0" text-anchor="middle" font-family='"Liberation Serif", serif' font-size="11.3" font-style="italic" fill="#1c1c28" stroke="#1c1c28" stroke-width="0.28" textLength="34.5" lengthAdjust="spacingAndGlyphs">Library</text>
<text transform="translate(481.5,282.5) rotate(-90)" x="0" y="0" text-anchor="middle" font-family='"Liberation Serif", serif' font-size="11.3" font-style="italic" fill="#1c1c28" stroke="#1c1c28" stroke-width="0.28" textLength="65" lengthAdjust="spacingAndGlyphs">Storage Room</text>
<text x="403.0" y="364.5" text-anchor="middle" font-family='"Liberation Serif", serif' font-size="11.3" font-style="italic" font-weight="normal" fill="#1c1c28" stroke="#1c1c28" stroke-width="0.28" textLength="46" lengthAdjust="spacingAndGlyphs">Assassin's</text>
<text x="403.5" y="373.2" text-anchor="middle" font-family='"Liberation Serif", serif' font-size="11.3" font-style="italic" font-weight="normal" fill="#1c1c28" stroke="#1c1c28" stroke-width="0.28" textLength="25" lengthAdjust="spacingAndGlyphs">Room</text>
<text x="491.5" y="365.2" text-anchor="middle" font-family='"Liberation Serif", serif' font-size="11.3" font-style="italic" font-weight="normal" fill="#1c1c28" stroke="#1c1c28" stroke-width="0.28" textLength="29" lengthAdjust="spacingAndGlyphs">Guard</text>
<text x="491.8" y="373.2" text-anchor="middle" font-family='"Liberation Serif", serif' font-size="11.3" font-style="italic" font-weight="normal" fill="#1c1c28" stroke="#1c1c28" stroke-width="0.28" textLength="25.5" lengthAdjust="spacingAndGlyphs">Room</text>
<text x="447.5" y="381.7" text-anchor="middle" font-family='"Liberation Serif", serif' font-size="11.3" font-style="italic" font-weight="normal" fill="#1c1c28" stroke="#1c1c28" stroke-width="0.28" textLength="30.0" lengthAdjust="spacingAndGlyphs">Before</text>
<text x="448.1" y="408.7" text-anchor="middle" font-family='"Liberation Serif", serif' font-size="11.3" font-style="italic" font-weight="normal" fill="#1c1c28" stroke="#1c1c28" stroke-width="0.28" textLength="98.7" lengthAdjust="spacingAndGlyphs">Illuminati Stronghold</text>
<text transform="translate(437.8,458.5) rotate(-90)" x="0" y="0" text-anchor="middle" font-family='"Liberation Serif", serif' font-size="11.3" font-style="italic" fill="#1c1c28" stroke="#1c1c28" stroke-width="0.28" textLength="47" lengthAdjust="spacingAndGlyphs">Dark Path</text>
<text x="448.1" y="541.7" text-anchor="middle" font-family='"Liberation Serif", serif' font-size="11.3" font-style="italic" font-weight="normal" fill="#1c1c28" stroke="#1c1c28" stroke-width="0.28" textLength="21.3" lengthAdjust="spacingAndGlyphs">Turn</text>
<text x="447.8" y="550.7" text-anchor="middle" font-family='"Liberation Serif", serif' font-size="11.3" font-style="italic" font-weight="normal" fill="#1c1c28" stroke="#1c1c28" stroke-width="0.28" textLength="32.0" lengthAdjust="spacingAndGlyphs">in Path</text>
<text transform="translate(569.5,194.2) rotate(-90)" x="0" y="0" text-anchor="middle" font-family='"Liberation Serif", serif' font-size="11.3" font-style="italic" fill="#1c1c28" stroke="#1c1c28" stroke-width="0.28" textLength="80.4" lengthAdjust="spacingAndGlyphs">Cloning Facilities</text>
<text transform="translate(613.5,215.8) rotate(-90)" x="0" y="0" text-anchor="middle" font-family='"Liberation Serif", serif' font-size="11.3" font-style="italic" fill="#1c1c28" stroke="#1c1c28" stroke-width="0.28" textLength="70.5" lengthAdjust="spacingAndGlyphs">Upper Hallway</text>
<text transform="translate(656.5,193.4) rotate(-90)" x="0" y="0" text-anchor="middle" font-family='"Liberation Serif", serif' font-size="11.3" font-style="italic" fill="#1c1c28" stroke="#1c1c28" stroke-width="0.28" textLength="84.8" lengthAdjust="spacingAndGlyphs">Southern Northern</text>
<text transform="translate(684.5,193.4) rotate(-90)" x="0" y="0" text-anchor="middle" font-family='"Liberation Serif", serif' font-size="11.3" font-style="italic" fill="#1c1c28" stroke="#1c1c28" stroke-width="0.28" textLength="51.2" lengthAdjust="spacingAndGlyphs">Operations</text>
<text transform="translate(693.5,193.3) rotate(-90)" x="0" y="0" text-anchor="middle" font-family='"Liberation Serif", serif' font-size="11.3" font-style="italic" fill="#1c1c28" stroke="#1c1c28" stroke-width="0.28" textLength="26.7" lengthAdjust="spacingAndGlyphs">Room</text>
<text x="547.5" y="254.6" text-anchor="middle" font-family='"Liberation Serif", serif' font-size="11.3" font-style="italic" font-weight="normal" fill="#1c1c28" stroke="#1c1c28" stroke-width="0.28" textLength="45" lengthAdjust="spacingAndGlyphs">Illuminati</text>
<text x="547.8" y="263.7" text-anchor="middle" font-family='"Liberation Serif", serif' font-size="11.3" font-style="italic" font-weight="normal" fill="#1c1c28" stroke="#1c1c28" stroke-width="0.28" textLength="32.2" lengthAdjust="spacingAndGlyphs">Primi's</text>
<text x="547.5" y="272.2" text-anchor="middle" font-family='"Liberation Serif", serif' font-size="11.3" font-style="italic" font-weight="normal" fill="#1c1c28" stroke="#1c1c28" stroke-width="0.28" textLength="27.1" lengthAdjust="spacingAndGlyphs">Room</text>
<text transform="translate(684.5,277.4) rotate(-90)" x="0" y="0" text-anchor="middle" font-family='"Liberation Serif", serif' font-size="11.3" font-style="italic" fill="#1c1c28" stroke="#1c1c28" stroke-width="0.28" textLength="47.1" lengthAdjust="spacingAndGlyphs">Wizard's</text>
<text transform="translate(693.5,280.9) rotate(-90)" x="0" y="0" text-anchor="middle" font-family='"Liberation Serif", serif' font-size="11.3" font-style="italic" fill="#1c1c28" stroke="#1c1c28" stroke-width="0.28" textLength="51.7" lengthAdjust="spacingAndGlyphs">Laboratory</text>
<text transform="translate(613.5,303.9) rotate(-90)" x="0" y="0" text-anchor="middle" font-family='"Liberation Serif", serif' font-size="11.3" font-style="italic" fill="#1c1c28" stroke="#1c1c28" stroke-width="0.28" textLength="69.2" lengthAdjust="spacingAndGlyphs">Upper Hallway</text>
<text x="553.0" y="303.2" text-anchor="middle" font-family='"Liberation Serif", serif' font-size="11.3" font-style="italic" font-weight="normal" fill="#1c1c28" stroke="#1c1c28" stroke-width="0.28" textLength="34" lengthAdjust="spacingAndGlyphs">Torture</text>
<text x="553.3" y="312.4" text-anchor="middle" font-family='"Liberation Serif", serif' font-size="11.3" font-style="italic" font-weight="normal" fill="#1c1c28" stroke="#1c1c28" stroke-width="0.28" textLength="25.0" lengthAdjust="spacingAndGlyphs">Room</text>
<text x="547.5" y="347.9" text-anchor="middle" font-family='"Liberation Serif", serif' font-size="11.3" font-style="italic" font-weight="normal" fill="#1c1c28" stroke="#1c1c28" stroke-width="0.28" textLength="45" lengthAdjust="spacingAndGlyphs">Illuminati</text>
<text x="546.9" y="356.3" text-anchor="middle" font-family='"Liberation Serif", serif' font-size="11.3" font-style="italic" font-weight="normal" fill="#1c1c28" stroke="#1c1c28" stroke-width="0.28" textLength="30.3" lengthAdjust="spacingAndGlyphs">Shrine</text>
<text transform="translate(684.5,347.9) rotate(-90)" x="0" y="0" text-anchor="middle" font-family='"Liberation Serif", serif' font-size="11.3" font-style="italic" fill="#1c1c28" stroke="#1c1c28" stroke-width="0.28" textLength="40.2" lengthAdjust="spacingAndGlyphs">Weapons</text>
<text transform="translate(693.5,347.9) rotate(-90)" x="0" y="0" text-anchor="middle" font-family='"Liberation Serif", serif' font-size="11.3" font-style="italic" fill="#1c1c28" stroke="#1c1c28" stroke-width="0.28" textLength="26.3" lengthAdjust="spacingAndGlyphs">Room</text>
<text x="648.4" y="391.7" text-anchor="middle" font-family='"Liberation Serif", serif' font-size="11.3" font-style="italic" font-weight="normal" fill="#1c1c28" stroke="#1c1c28" stroke-width="0.28" textLength="27.3" lengthAdjust="spacingAndGlyphs">Portal</text>
<!-- -->
<text x="648.5" y="400.7" text-anchor="middle" font-family='"Liberation Serif", serif' font-size="11.3" font-style="italic" font-weight="normal" fill="#1c1c28" stroke="#1c1c28" stroke-width="0.28" textLength="25" lengthAdjust="spacingAndGlyphs">Room</text>
<text transform="translate(623.5,429.9) rotate(-90)" x="0" y="0" text-anchor="middle" font-family='"Liberation Serif", serif' font-size="11.3" font-style="italic" fill="#1c1c28" stroke="#1c1c28" stroke-width="0.28" textLength="40.3" lengthAdjust="spacingAndGlyphs">gateway</text>
<text x="187.2" y="347.4" text-anchor="middle" font-family='"Liberation Serif", serif' font-size="11.3" font-style="italic" font-weight="normal" fill="#1c1c28" stroke="#1c1c28" stroke-width="0.28" textLength="62.3" lengthAdjust="spacingAndGlyphs">Northern End</text>
<text x="187.0" y="356.4" text-anchor="middle" font-family='"Liberation Serif", serif' font-size="11.3" font-style="italic" font-weight="normal" fill="#1c1c28" stroke="#1c1c28" stroke-width="0.28" textLength="60.6" lengthAdjust="spacingAndGlyphs">of Courtyard</text>
<text x="250.8" y="343.4" text-anchor="middle" font-family='"Liberation Serif", serif' font-size="11.3" font-style="italic" font-weight="normal" fill="#1c1c28" stroke="#1c1c28" stroke-width="0.28" textLength="25.0" lengthAdjust="spacingAndGlyphs">fence</text>
<text x="293.9" y="365.0" text-anchor="middle" font-family='"Liberation Serif", serif' font-size="11.3" font-style="italic" font-weight="normal" fill="#1c1c28" stroke="#1c1c28" stroke-width="0.28" textLength="95.7" lengthAdjust="spacingAndGlyphs">Path Through Forest</text>
<text x="185.7" y="391.4" text-anchor="middle" font-family='"Liberation Serif", serif' font-size="11.3" font-style="italic" font-weight="normal" fill="#1c1c28" stroke="#1c1c28" stroke-width="0.28" textLength="63.3" lengthAdjust="spacingAndGlyphs">Southern End</text>
<text x="187.0" y="400.7" text-anchor="middle" font-family='"Liberation Serif", serif' font-size="11.3" font-style="italic" font-weight="normal" fill="#1c1c28" stroke="#1c1c28" stroke-width="0.28" textLength="60.6" lengthAdjust="spacingAndGlyphs">of Courtyard</text>
<text x="271.7" y="415.7" text-anchor="middle" font-family='"Liberation Serif", serif' font-size="11.3" font-style="italic" font-weight="normal" fill="#1c1c28" stroke="#1c1c28" stroke-width="0.28" textLength="50.0" lengthAdjust="spacingAndGlyphs">Meditation</text>
<text x="271.5" y="425.7" text-anchor="middle" font-family='"Liberation Serif", serif' font-size="11.3" font-style="italic" font-weight="normal" fill="#1c1c28" stroke="#1c1c28" stroke-width="0.28" textLength="25" lengthAdjust="spacingAndGlyphs">Room</text>
<text x="198.0" y="435.0" text-anchor="middle" font-family='"Liberation Serif", serif' font-size="11.3" font-style="italic" font-weight="normal" fill="#1c1c28" stroke="#1c1c28" stroke-width="0.28" textLength="30.6" lengthAdjust="spacingAndGlyphs">End of</text>
<text x="198.2" y="444.0" text-anchor="middle" font-family='"Liberation Serif", serif' font-size="11.3" font-style="italic" font-weight="normal" fill="#1c1c28" stroke="#1c1c28" stroke-width="0.28" textLength="38.3" lengthAdjust="spacingAndGlyphs">Hallway</text>
<text x="152.2" y="479.5" text-anchor="middle" font-family='"Liberation Serif", serif' font-size="11.3" font-style="italic" font-weight="normal" fill="#1c1c28" stroke="#1c1c28" stroke-width="0.28" textLength="43.3" lengthAdjust="spacingAndGlyphs">Priestess'</text>
<text x="152.4" y="487.7" text-anchor="middle" font-family='"Liberation Serif", serif' font-size="11.3" font-style="italic" font-weight="normal" fill="#1c1c28" stroke="#1c1c28" stroke-width="0.28" textLength="42.8" lengthAdjust="spacingAndGlyphs">Chamber</text>
<text x="303.9" y="479.0" text-anchor="middle" font-family='"Liberation Serif", serif' font-size="11.3" font-style="italic" font-weight="normal" fill="#1c1c28" stroke="#1c1c28" stroke-width="0.28" textLength="42.3" lengthAdjust="spacingAndGlyphs">Priestess'</text>
<text x="304.2" y="488.0" text-anchor="middle" font-family='"Liberation Serif", serif' font-size="11.3" font-style="italic" font-weight="normal" fill="#1c1c28" stroke="#1c1c28" stroke-width="0.28" textLength="43.0" lengthAdjust="spacingAndGlyphs">Chamber</text>
<text x="227.6" y="501.2" text-anchor="middle" font-family='"Liberation Serif", serif' font-size="11.3" font-style="italic" font-weight="normal" fill="#1c1c28" stroke="#1c1c28" stroke-width="0.28" textLength="37.5" lengthAdjust="spacingAndGlyphs">Room in</text>
<text x="227.5" y="509.5" text-anchor="middle" font-family='"Liberation Serif", serif' font-size="11.3" font-style="italic" font-weight="normal" fill="#1c1c28" stroke="#1c1c28" stroke-width="0.28" textLength="39" lengthAdjust="spacingAndGlyphs">Hallway</text>
<text x="73.7" y="514.0" text-anchor="middle" font-family='"Liberation Serif", serif' font-size="11.3" font-style="italic" font-weight="normal" fill="#1c1c28" stroke="#1c1c28" stroke-width="0.28" textLength="34.0" lengthAdjust="spacingAndGlyphs">Library</text>
<text x="139.2" y="514.0" text-anchor="middle" font-family='"Liberation Serif", serif' font-size="11.3" font-style="italic" font-weight="normal" fill="#1c1c28" stroke="#1c1c28" stroke-width="0.28" textLength="37.5" lengthAdjust="spacingAndGlyphs">Western</text>
<text x="183.8" y="513.7" text-anchor="middle" font-family='"Liberation Serif", serif' font-size="11.3" font-style="italic" font-weight="normal" fill="#1c1c28" stroke="#1c1c28" stroke-width="0.28" textLength="36.5" lengthAdjust="spacingAndGlyphs">Eastern</text>
<text x="161.5" y="540.9" text-anchor="middle" font-family='"Liberation Serif", serif' font-size="11.3" font-style="italic" font-weight="normal" fill="#1c1c28" stroke="#1c1c28" stroke-width="0.28" textLength="92.0" lengthAdjust="spacingAndGlyphs">End of Practice Hall</text>
<text x="271.8" y="541.5" text-anchor="middle" font-family='"Liberation Serif", serif' font-size="11.3" font-style="italic" font-weight="normal" fill="#1c1c28" stroke="#1c1c28" stroke-width="0.28" textLength="68.5" lengthAdjust="spacingAndGlyphs">High Priestess'</text>
<text x="271.5" y="550.4" text-anchor="middle" font-family='"Liberation Serif", serif' font-size="11.3" font-style="italic" font-weight="normal" fill="#1c1c28" stroke="#1c1c28" stroke-width="0.28" textLength="43" lengthAdjust="spacingAndGlyphs">Chamber</text>
<text x="337.4" y="505.1" text-anchor="middle" font-family='"Liberation Serif", serif' font-size="11.3" font-style="italic" font-weight="normal" fill="#1c1c28" stroke="#1c1c28" stroke-width="0.28" textLength="33.2" lengthAdjust="spacingAndGlyphs">Private</text>
<text x="337.5" y="514.3" text-anchor="middle" font-family='"Liberation Serif", serif' font-size="11.3" font-style="italic" font-weight="normal" fill="#1c1c28" stroke="#1c1c28" stroke-width="0.28" textLength="72.2" lengthAdjust="spacingAndGlyphs">Living Quarters</text>
<text x="139.7" y="558.4" text-anchor="middle" font-family='"Liberation Serif", serif' font-size="11.3" font-style="italic" font-weight="normal" fill="#1c1c28" stroke="#1c1c28" stroke-width="0.28" textLength="80.7" lengthAdjust="spacingAndGlyphs">Room in Hallway</text>
<text x="337.8" y="558.2" text-anchor="middle" font-family='"Liberation Serif", serif' font-size="11.3" font-style="italic" font-weight="normal" fill="#1c1c28" stroke="#1c1c28" stroke-width="0.28" textLength="80.0" lengthAdjust="spacingAndGlyphs">Room in Hallway</text>
<text x="265.2" y="565.7" text-anchor="middle" font-family='"Liberation Serif", serif' font-size="11.3" font-style="italic" font-weight="normal" fill="#1c1c28" stroke="#1c1c28" stroke-width="0.28" textLength="38.9" lengthAdjust="spacingAndGlyphs">Hallway</text>
<text x="265.2" y="577.4" text-anchor="middle" font-family='"Liberation Serif", serif' font-size="11.3" font-style="italic" font-weight="normal" fill="#1c1c28" stroke="#1c1c28" stroke-width="0.28" textLength="53.9" lengthAdjust="spacingAndGlyphs">Intersection</text>
<text x="52.0" y="585.7" text-anchor="middle" font-family='"Liberation Serif", serif' font-size="11.3" font-style="italic" font-weight="normal" fill="#1c1c28" stroke="#1c1c28" stroke-width="0.28" textLength="34" lengthAdjust="spacingAndGlyphs">Library</text>
<text x="183.3" y="593.4" text-anchor="middle" font-family='"Liberation Serif", serif' font-size="11.3" font-style="italic" font-weight="normal" fill="#1c1c28" stroke="#1c1c28" stroke-width="0.28" textLength="33.3" lengthAdjust="spacingAndGlyphs">Private</text>
<text x="183.0" y="602.4" text-anchor="middle" font-family='"Liberation Serif", serif' font-size="11.3" font-style="italic" font-weight="normal" fill="#1c1c28" stroke="#1c1c28" stroke-width="0.28" textLength="72.6" lengthAdjust="spacingAndGlyphs">Living Quarters</text>
<text x="105.0" y="610.7" text-anchor="middle" font-family='"Liberation Serif", serif' font-size="11.3" font-style="italic" font-weight="normal" fill="#1c1c28" stroke="#1c1c28" stroke-width="0.28" textLength="38" lengthAdjust="spacingAndGlyphs">Room of</text>
<text x="104.7" y="620.7" text-anchor="middle" font-family='"Liberation Serif", serif' font-size="11.3" font-style="italic" font-weight="normal" fill="#1c1c28" stroke="#1c1c28" stroke-width="0.28" textLength="49.3" lengthAdjust="spacingAndGlyphs">the Keeper</text>
<text x="315.3" y="601.7" text-anchor="middle" font-family='"Liberation Serif", serif' font-size="11.3" font-style="italic" font-weight="normal" fill="#1c1c28" stroke="#1c1c28" stroke-width="0.28" textLength="37.2" lengthAdjust="spacingAndGlyphs">Western</text>
<text x="359.8" y="601.7" text-anchor="middle" font-family='"Liberation Serif", serif' font-size="11.3" font-style="italic" font-weight="normal" fill="#1c1c28" stroke="#1c1c28" stroke-width="0.28" textLength="36.1" lengthAdjust="spacingAndGlyphs">Eastern</text>
<text x="259.8" y="606.0" text-anchor="middle" font-family='"Liberation Serif", serif' font-size="11.3" font-style="italic" font-weight="normal" fill="#1c1c28" stroke="#1c1c28" stroke-width="0.28" textLength="41.7" lengthAdjust="spacingAndGlyphs">Entrance</text>
<text x="259.4" y="614.9" text-anchor="middle" font-family='"Liberation Serif", serif' font-size="11.3" font-style="italic" font-weight="normal" fill="#1c1c28" stroke="#1c1c28" stroke-width="0.28" textLength="33.9" lengthAdjust="spacingAndGlyphs">to Main</text>
<text x="260.0" y="624.0" text-anchor="middle" font-family='"Liberation Serif", serif' font-size="11.3" font-style="italic" font-weight="normal" fill="#1c1c28" stroke="#1c1c28" stroke-width="0.28" textLength="44" lengthAdjust="spacingAndGlyphs">Hallways</text>
<text x="338.1" y="628.7" text-anchor="middle" font-family='"Liberation Serif", serif' font-size="11.3" font-style="italic" font-weight="normal" fill="#1c1c28" stroke="#1c1c28" stroke-width="0.28" textLength="75.0" lengthAdjust="spacingAndGlyphs">End of Barracks</text>
<text x="228.1" y="646.1" text-anchor="middle" font-family='"Liberation Serif", serif' font-size="11.3" font-style="italic" font-weight="normal" fill="#1c1c28" stroke="#1c1c28" stroke-width="0.28" textLength="25.4" lengthAdjust="spacingAndGlyphs">Place</text>
<text x="228.2" y="672.4" text-anchor="middle" font-family='"Liberation Serif", serif' font-size="11.3" font-style="italic" font-weight="normal" fill="#1c1c28" stroke="#1c1c28" stroke-width="0.28" textLength="31.3" lengthAdjust="spacingAndGlyphs">of Rest</text>
<text x="271.2" y="645.7" text-anchor="middle" font-family='"Liberation Serif", serif' font-size="11.3" font-style="italic" font-weight="normal" fill="#1c1c28" stroke="#1c1c28" stroke-width="0.28" textLength="28.4" lengthAdjust="spacingAndGlyphs">Closet</text>
<text x="149.6" y="654.9" text-anchor="middle" font-family='"Liberation Serif", serif' font-size="11.3" font-style="italic" font-weight="normal" fill="#1c1c28" stroke="#1c1c28" stroke-width="0.28" textLength="49.2" lengthAdjust="spacingAndGlyphs">Secondary</text>
<text x="149.7" y="664.0" text-anchor="middle" font-family='"Liberation Serif", serif' font-size="11.3" font-style="italic" font-weight="normal" fill="#1c1c28" stroke="#1c1c28" stroke-width="0.28" textLength="31.4" lengthAdjust="spacingAndGlyphs">Shrine</text>
<text x="344.6" y="654.5" text-anchor="middle" font-family='"Liberation Serif", serif' font-size="11.3" font-style="italic" font-weight="normal" fill="#1c1c28" stroke="#1c1c28" stroke-width="0.28" textLength="37.3" lengthAdjust="spacingAndGlyphs">Records</text>
<text x="344.0" y="664.0" text-anchor="middle" font-family='"Liberation Serif", serif' font-size="11.3" font-style="italic" font-weight="normal" fill="#1c1c28" stroke="#1c1c28" stroke-width="0.28" textLength="26" lengthAdjust="spacingAndGlyphs">Room</text>
<text x="228.1" y="691.1" text-anchor="middle" font-family='"Liberation Serif", serif' font-size="11.3" font-style="italic" font-weight="normal" fill="#1c1c28" stroke="#1c1c28" stroke-width="0.28" textLength="35.4" lengthAdjust="spacingAndGlyphs">Central</text>
<text x="227.8" y="716.1" text-anchor="middle" font-family='"Liberation Serif", serif' font-size="11.3" font-style="italic" font-weight="normal" fill="#1c1c28" stroke="#1c1c28" stroke-width="0.28" textLength="30.5" lengthAdjust="spacingAndGlyphs">Shrine</text>
<text x="151.3" y="698.7" text-anchor="middle" font-family='"Liberation Serif", serif' font-size="11.3" font-style="italic" font-weight="normal" fill="#1c1c28" stroke="#1c1c28" stroke-width="0.28" textLength="33.4" lengthAdjust="spacingAndGlyphs">Cleric's</text>
<text x="151.5" y="707.7" text-anchor="middle" font-family='"Liberation Serif", serif' font-size="11.3" font-style="italic" font-weight="normal" fill="#1c1c28" stroke="#1c1c28" stroke-width="0.28" textLength="43" lengthAdjust="spacingAndGlyphs">Restroom</text>
<text x="348.9" y="702.7" text-anchor="middle" font-family='"Liberation Serif", serif' font-size="11.3" font-style="italic" font-weight="normal" fill="#1c1c28" stroke="#1c1c28" stroke-width="0.28" textLength="47.9" lengthAdjust="spacingAndGlyphs">Storeroom</text>
<text transform="translate(288.5,721.2) rotate(-90)" x="0" y="0" text-anchor="middle" font-family='"Liberation Serif", serif' font-size="11.3" font-style="italic" fill="#1c1c28" stroke="#1c1c28" stroke-width="0.28" textLength="75.5" lengthAdjust="spacingAndGlyphs">Room in Temple</text>
<text x="227.0" y="734.0" text-anchor="middle" font-family='"Liberation Serif", serif' font-size="11.3" font-style="italic" font-weight="normal" fill="#1c1c28" stroke="#1c1c28" stroke-width="0.28" textLength="54" lengthAdjust="spacingAndGlyphs">Entrance to</text>
<text x="227.7" y="759.7" text-anchor="middle" font-family='"Liberation Serif", serif' font-size="11.3" font-style="italic" font-weight="normal" fill="#1c1c28" stroke="#1c1c28" stroke-width="0.28" textLength="51.3" lengthAdjust="spacingAndGlyphs">the Temple</text>
<text x="159.6" y="743.2" text-anchor="middle" font-family='"Liberation Serif", serif' font-size="11.3" font-style="italic" font-weight="normal" fill="#1c1c28" stroke="#1c1c28" stroke-width="0.28" textLength="29.2" lengthAdjust="spacingAndGlyphs">Guard</text>
<text x="160.0" y="751.5" text-anchor="middle" font-family='"Liberation Serif", serif' font-size="11.3" font-style="italic" font-weight="normal" fill="#1c1c28" stroke="#1c1c28" stroke-width="0.28" textLength="28.4" lengthAdjust="spacingAndGlyphs">House</text>
<text x="345.3" y="743.2" text-anchor="middle" font-family='"Liberation Serif", serif' font-size="11.3" font-style="italic" font-weight="normal" fill="#1c1c28" stroke="#1c1c28" stroke-width="0.28" textLength="38.6" lengthAdjust="spacingAndGlyphs">Room in</text>
<text x="345.2" y="751.5" text-anchor="middle" font-family='"Liberation Serif", serif' font-size="11.3" font-style="italic" font-weight="normal" fill="#1c1c28" stroke="#1c1c28" stroke-width="0.28" textLength="34.5" lengthAdjust="spacingAndGlyphs">Temple</text>
<text x="162.1" y="791.2" text-anchor="middle" font-family='"Liberation Serif", serif' font-size="12.5" font-style="italic" font-weight="bold" fill="#0808ff" stroke="#0808ff" stroke-width="0.28" textLength="60" lengthAdjust="spacingAndGlyphs">Wildwood</text>
<text x="228.0" y="804.7" text-anchor="middle" font-family='"Liberation Serif", serif' font-size="11.3" font-style="italic" font-weight="normal" fill="#1c1c28" stroke="#1c1c28" stroke-width="0.28" textLength="48" lengthAdjust="spacingAndGlyphs">Before the</text>
<text x="228.3" y="814.0" text-anchor="middle" font-family='"Liberation Serif", serif' font-size="11.3" font-style="italic" font-weight="normal" fill="#1c1c28" stroke="#1c1c28" stroke-width="0.28" textLength="66.7" lengthAdjust="spacingAndGlyphs">Temple of Eris</text>
<text transform="translate(578.5,483.8) rotate(-90)" x="0" y="0" text-anchor="middle" font-family='"Liberation Serif", serif' font-size="11.3" font-style="italic" fill="#1c1c28" stroke="#1c1c28" stroke-width="0.28" textLength="59.7" lengthAdjust="spacingAndGlyphs">Northwest of</text>
<text transform="translate(587.5,483.7) rotate(-90)" x="0" y="0" text-anchor="middle" font-family='"Liberation Serif", serif' font-size="11.3" font-style="italic" fill="#1c1c28" stroke="#1c1c28" stroke-width="0.28" textLength="51.4" lengthAdjust="spacingAndGlyphs">Pentagram</text>
<text x="623.5" y="504.6" text-anchor="middle" font-family='"Liberation Serif", serif' font-size="11.3" font-style="italic" font-weight="normal" fill="#1c1c28" stroke="#1c1c28" stroke-width="0.28" textLength="37.5" lengthAdjust="spacingAndGlyphs">North of</text>
<text x="623.5" y="513.5" text-anchor="middle" font-family='"Liberation Serif", serif' font-size="11.3" font-style="italic" font-weight="normal" fill="#1c1c28" stroke="#1c1c28" stroke-width="0.28" textLength="51.4" lengthAdjust="spacingAndGlyphs">Pentagram</text>
<text transform="translate(667.5,483.8) rotate(-90)" x="0" y="0" text-anchor="middle" font-family='"Liberation Serif", serif' font-size="11.3" font-style="italic" fill="#1c1c28" stroke="#1c1c28" stroke-width="0.28" textLength="59.7" lengthAdjust="spacingAndGlyphs">Northeast of</text>
<text transform="translate(676,483.7) rotate(-90)" x="0" y="0" text-anchor="middle" font-family='"Liberation Serif", serif' font-size="11.3" font-style="italic" fill="#1c1c28" stroke="#1c1c28" stroke-width="0.28" textLength="51.4" lengthAdjust="spacingAndGlyphs">Pentagram</text>
<text x="623.2" y="557.4" text-anchor="middle" font-family='"Liberation Serif", serif' font-size="11.3" font-style="italic" font-weight="normal" fill="#1c1c28" stroke="#1c1c28" stroke-width="0.28" textLength="63.0" lengthAdjust="spacingAndGlyphs">Pentagram of</text>
<text x="623.1" y="585.1" text-anchor="middle" font-family='"Liberation Serif", serif' font-size="11.3" font-style="italic" font-weight="normal" fill="#1c1c28" stroke="#1c1c28" stroke-width="0.28" textLength="55.0" lengthAdjust="spacingAndGlyphs">Yog Sothoth</text>
<text transform="translate(561,568.4) rotate(-90)" x="0" y="0" text-anchor="middle" font-family='"Liberation Serif", serif' font-size="11.3" font-style="italic" fill="#1c1c28" stroke="#1c1c28" stroke-width="0.28" textLength="34.8" lengthAdjust="spacingAndGlyphs">West of</text>
<text transform="translate(570,567.5) rotate(-90)" x="0" y="0" text-anchor="middle" font-family='"Liberation Serif", serif' font-size="11.3" font-style="italic" fill="#1c1c28" stroke="#1c1c28" stroke-width="0.28" textLength="50.6" lengthAdjust="spacingAndGlyphs">Pentagram</text>
<text transform="translate(684,568.4) rotate(-90)" x="0" y="0" text-anchor="middle" font-family='"Liberation Serif", serif' font-size="11.3" font-style="italic" fill="#1c1c28" stroke="#1c1c28" stroke-width="0.28" textLength="34.8" lengthAdjust="spacingAndGlyphs">East of</text>
<text transform="translate(693,568.5) rotate(-90)" x="0" y="0" text-anchor="middle" font-family='"Liberation Serif", serif' font-size="11.3" font-style="italic" fill="#1c1c28" stroke="#1c1c28" stroke-width="0.28" textLength="51" lengthAdjust="spacingAndGlyphs">Pentagram</text>
<text x="622.8" y="628.5" text-anchor="middle" font-family='"Liberation Serif", serif' font-size="11.3" font-style="italic" font-weight="normal" fill="#1c1c28" stroke="#1c1c28" stroke-width="0.28" textLength="38.9" lengthAdjust="spacingAndGlyphs">South of</text>
<text x="623.5" y="637.4" text-anchor="middle" font-family='"Liberation Serif", serif' font-size="11.3" font-style="italic" font-weight="normal" fill="#1c1c28" stroke="#1c1c28" stroke-width="0.28" textLength="51.4" lengthAdjust="spacingAndGlyphs">Pentagram</text>
<text transform="translate(579,654.1) rotate(-90)" x="0" y="0" text-anchor="middle" font-family='"Liberation Serif", serif' font-size="11.3" font-style="italic" fill="#1c1c28" stroke="#1c1c28" stroke-width="0.28" textLength="58.3" lengthAdjust="spacingAndGlyphs">Southwest of</text>
<text transform="translate(588,653.4) rotate(-90)" x="0" y="0" text-anchor="middle" font-family='"Liberation Serif", serif' font-size="11.3" font-style="italic" fill="#1c1c28" stroke="#1c1c28" stroke-width="0.28" textLength="51.2" lengthAdjust="spacingAndGlyphs">Pentagram</text>
<text transform="translate(667.5,653.5) rotate(-90)" x="0" y="0" text-anchor="middle" font-family='"Liberation Serif", serif' font-size="11.3" font-style="italic" fill="#1c1c28" stroke="#1c1c28" stroke-width="0.28" textLength="57" lengthAdjust="spacingAndGlyphs">Southeast of</text>
<text transform="translate(676,653.4) rotate(-90)" x="0" y="0" text-anchor="middle" font-family='"Liberation Serif", serif' font-size="11.3" font-style="italic" fill="#1c1c28" stroke="#1c1c28" stroke-width="0.28" textLength="51.2" lengthAdjust="spacingAndGlyphs">Pentagram</text>
<text transform="translate(623.5,688.2) rotate(-90)" x="0" y="0" text-anchor="middle" font-family='"Liberation Serif", serif' font-size="11.3" font-style="italic" fill="#1c1c28" stroke="#1c1c28" stroke-width="0.28" textLength="28.5" lengthAdjust="spacingAndGlyphs">portal</text>
<text x="623.9" y="720.7" text-anchor="middle" font-family='"Liberation Serif", serif' font-size="11.3" font-style="italic" font-weight="normal" fill="#1c1c28" stroke="#1c1c28" stroke-width="0.28" textLength="30.0" lengthAdjust="spacingAndGlyphs">Before</text>
<text x="623.5" y="730.4" text-anchor="middle" font-family='"Liberation Serif", serif' font-size="11.3" font-style="italic" font-weight="normal" fill="#1c1c28" stroke="#1c1c28" stroke-width="0.28" textLength="51.4" lengthAdjust="spacingAndGlyphs">Pentagram</text>
<g transform="translate(118,237)">
<circle r="42" fill="#0c1060" stroke="#000" stroke-width="2"/>
<path d="M12.0,-0.9 L17.6,0.3 L23.1,-1.6 L28.8,0.5 L34.3,-2.4 L40.0,0.6" stroke="#2a78e8" stroke-width="1.3" fill="none" stroke-linejoin="round"/>
<path d="M11.9,1.2 L17.3,3.3 L23.1,2.4 L28.3,5.5 L34.2,3.6 L39.3,7.6" stroke="#1a3cc8" stroke-width="1.3" fill="none" stroke-linejoin="round"/>
<path d="M11.7,2.7 L16.7,5.5 L22.6,5.3 L27.4,8.9 L33.5,7.8 L38.0,12.4" stroke="#1a3cc8" stroke-width="1.3" fill="none" stroke-linejoin="round"/>
<path d="M11.1,4.6 L15.6,8.2 L21.4,8.9 L25.5,13.4 L31.7,13.3 L35.4,18.6" stroke="#2a78e8" stroke-width="1.3" fill="none" stroke-linejoin="round"/>
<path d="M10.3,6.2 L14.2,10.3 L19.9,11.9 L23.3,16.9 L29.5,17.7 L32.4,23.5" stroke="#1a3cc8" stroke-width="1.3" fill="none" stroke-linejoin="round"/>
<path d="M9.7,7.0 L13.3,11.5 L18.8,13.6 L21.8,18.8 L27.9,20.1 L30.3,26.1" stroke="#1a3cc8" stroke-width="1.3" fill="none" stroke-linejoin="round"/>
<path d="M8.7,8.3 L11.6,13.2 L16.8,16.0 L19.0,21.6 L24.9,23.8 L26.4,30.0" stroke="#2a78e8" stroke-width="1.3" fill="none" stroke-linejoin="round"/>
<path d="M6.6,10.0 L8.3,15.5 L12.7,19.4 L13.6,25.4 L18.8,28.8 L18.9,35.3" stroke="#1a3cc8" stroke-width="1.3" fill="none" stroke-linejoin="round"/>
<path d="M5.7,10.5 L7.0,16.1 L11.1,20.4 L11.5,26.4 L16.4,30.2 L15.9,36.7" stroke="#1a3cc8" stroke-width="1.3" fill="none" stroke-linejoin="round"/>
<path d="M4.2,11.2 L4.7,17.0 L8.1,21.7 L7.7,27.8 L12.0,32.2 L10.7,38.6" stroke="#2a78e8" stroke-width="1.3" fill="none" stroke-linejoin="round"/>
<path d="M1.6,11.9 L0.8,17.6 L3.1,23.0 L1.4,28.8 L4.6,34.1 L1.9,40.0" stroke="#1a3cc8" stroke-width="1.3" fill="none" stroke-linejoin="round"/>
<path d="M0.6,12.0 L-0.7,17.6 L1.1,23.2 L-1.2,28.8 L1.6,34.4 L-1.6,40.0" stroke="#1a3cc8" stroke-width="1.3" fill="none" stroke-linejoin="round"/>
<path d="M-1.6,11.9 L-3.9,17.2 L-3.1,23.0 L-6.3,28.1 L-4.6,34.1 L-8.8,39.0" stroke="#2a78e8" stroke-width="1.3" fill="none" stroke-linejoin="round"/>
<path d="M-2.8,11.7 L-5.6,16.7 L-5.5,22.5 L-9.2,27.3 L-8.2,33.4 L-12.8,37.9" stroke="#1a3cc8" stroke-width="1.3" fill="none" stroke-linejoin="round"/>
<path d="M-4.7,11.1 L-8.2,15.6 L-9.0,21.4 L-13.5,25.5 L-13.4,31.7 L-18.7,35.4" stroke="#1a3cc8" stroke-width="1.3" fill="none" stroke-linejoin="round"/>
<path d="M-5.7,10.6 L-9.6,14.7 L-10.9,20.5 L-15.7,24.1 L-16.2,30.3 L-21.9,33.5" stroke="#2a78e8" stroke-width="1.3" fill="none" stroke-linejoin="round"/>
<path d="M-7.6,9.3 L-12.3,12.6 L-14.7,18.0 L-20.1,20.6 L-21.8,26.7 L-27.9,28.7" stroke="#1a3cc8" stroke-width="1.3" fill="none" stroke-linejoin="round"/>
<path d="M-9.0,7.9 L-14.2,10.4 L-17.5,15.3 L-23.2,17.0 L-25.9,22.7 L-32.3,23.6" stroke="#1a3cc8" stroke-width="1.3" fill="none" stroke-linejoin="round"/>
<path d="M-9.8,6.9 L-15.2,8.8 L-19.0,13.3 L-24.9,14.4 L-28.1,19.8 L-34.6,20.1" stroke="#2a78e8" stroke-width="1.3" fill="none" stroke-linejoin="round"/>
<path d="M-10.8,5.2 L-16.5,6.2 L-20.9,10.0 L-27.0,10.1 L-31.0,14.9 L-37.4,14.1" stroke="#1a3cc8" stroke-width="1.3" fill="none" stroke-linejoin="round"/>
<path d="M-11.4,3.7 L-17.2,3.9 L-22.1,7.1 L-28.1,6.4 L-32.7,10.5 L-39.0,8.9" stroke="#1a3cc8" stroke-width="1.3" fill="none" stroke-linejoin="round"/>
<path d="M-11.7,2.8 L-17.4,2.5 L-22.6,5.3 L-28.5,4.2 L-33.5,7.9 L-39.6,5.8" stroke="#2a78e8" stroke-width="1.3" fill="none" stroke-linejoin="round"/>
<path d="M-12.0,0.2 L-17.6,-1.2 L-23.2,0.4 L-28.7,-2.0 L-34.4,0.6 L-39.9,-2.8" stroke="#1a3cc8" stroke-width="1.3" fill="none" stroke-linejoin="round"/>
<path d="M-11.9,-1.3 L-17.3,-3.4 L-23.1,-2.5 L-28.2,-5.6 L-34.2,-3.7 L-39.2,-7.8" stroke="#1a3cc8" stroke-width="1.3" fill="none" stroke-linejoin="round"/>
<path d="M-11.7,-2.6 L-16.8,-5.3 L-22.6,-5.1 L-27.4,-8.7 L-33.6,-7.5 L-38.1,-12.1" stroke="#2a78e8" stroke-width="1.3" fill="none" stroke-linejoin="round"/>
<path d="M-11.3,-4.0 L-16.0,-7.2 L-21.9,-7.6 L-26.3,-11.8 L-32.5,-11.3 L-36.5,-16.4" stroke="#1a3cc8" stroke-width="1.3" fill="none" stroke-linejoin="round"/>
<path d="M-10.1,-6.4 L-14.0,-10.7 L-19.6,-12.4 L-22.9,-17.5 L-29.0,-18.4 L-31.8,-24.3" stroke="#1a3cc8" stroke-width="1.3" fill="none" stroke-linejoin="round"/>
<path d="M-9.4,-7.4 L-12.8,-12.1 L-18.2,-14.4 L-21.0,-19.7 L-27.0,-21.3 L-29.1,-27.4" stroke="#2a78e8" stroke-width="1.3" fill="none" stroke-linejoin="round"/>
<path d="M-8.0,-8.9 L-10.6,-14.0 L-15.6,-17.2 L-17.4,-23.0 L-23.1,-25.5 L-24.1,-31.9" stroke="#1a3cc8" stroke-width="1.3" fill="none" stroke-linejoin="round"/>
<path d="M-6.5,-10.1 L-8.3,-15.5 L-12.6,-19.5 L-13.5,-25.4 L-18.7,-28.9 L-18.8,-35.3" stroke="#1a3cc8" stroke-width="1.3" fill="none" stroke-linejoin="round"/>
<path d="M-5.2,-10.8 L-6.2,-16.5 L-10.1,-20.9 L-10.2,-26.9 L-15.0,-31.0 L-14.2,-37.4" stroke="#2a78e8" stroke-width="1.3" fill="none" stroke-linejoin="round"/>
<path d="M-3.4,-11.5 L-3.5,-17.3 L-6.5,-22.3 L-5.7,-28.2 L-9.7,-33.0 L-7.9,-39.2" stroke="#1a3cc8" stroke-width="1.3" fill="none" stroke-linejoin="round"/>
<path d="M-2.4,-11.8 L-1.9,-17.5 L-4.6,-22.7 L-3.2,-28.6 L-6.7,-33.7 L-4.4,-39.8" stroke="#1a3cc8" stroke-width="1.3" fill="none" stroke-linejoin="round"/>
<path d="M-0.1,-12.0 L1.3,-17.6 L-0.3,-23.2 L2.2,-28.7 L-0.4,-34.4 L3.0,-39.9" stroke="#2a78e8" stroke-width="1.3" fill="none" stroke-linejoin="round"/>
<path d="M1.1,-11.9 L3.2,-17.3 L2.2,-23.1 L5.2,-28.3 L3.2,-34.3 L7.2,-39.3" stroke="#1a3cc8" stroke-width="1.3" fill="none" stroke-linejoin="round"/>
<path d="M3.4,-11.5 L6.4,-16.4 L6.6,-22.2 L10.5,-26.8 L9.8,-33.0 L14.6,-37.2" stroke="#1a3cc8" stroke-width="1.3" fill="none" stroke-linejoin="round"/>
<path d="M4.9,-10.9 L8.6,-15.3 L9.6,-21.1 L14.1,-25.1 L14.2,-31.3 L19.6,-34.9" stroke="#2a78e8" stroke-width="1.3" fill="none" stroke-linejoin="round"/>
<path d="M5.6,-10.6 L9.5,-14.8 L10.8,-20.5 L15.6,-24.2 L16.1,-30.4 L21.7,-33.6" stroke="#1a3cc8" stroke-width="1.3" fill="none" stroke-linejoin="round"/>
<path d="M7.1,-9.7 L11.6,-13.2 L13.7,-18.7 L19.0,-21.7 L20.3,-27.8 L26.4,-30.1" stroke="#1a3cc8" stroke-width="1.3" fill="none" stroke-linejoin="round"/>
<path d="M8.5,-8.5 L13.5,-11.3 L16.4,-16.4 L22.0,-18.6 L24.3,-24.4 L30.6,-25.8" stroke="#2a78e8" stroke-width="1.3" fill="none" stroke-linejoin="round"/>
<path d="M10.1,-6.4 L15.6,-8.1 L19.6,-12.4 L25.6,-13.3 L29.0,-18.4 L35.5,-18.4" stroke="#1a3cc8" stroke-width="1.3" fill="none" stroke-linejoin="round"/>
<path d="M10.7,-5.5 L16.3,-6.7 L20.6,-10.7 L26.6,-11.0 L30.5,-15.8 L37.0,-15.3" stroke="#1a3cc8" stroke-width="1.3" fill="none" stroke-linejoin="round"/>
<path d="M11.4,-3.7 L17.1,-4.0 L22.1,-7.2 L28.1,-6.5 L32.7,-10.7 L39.0,-9.1" stroke="#2a78e8" stroke-width="1.3" fill="none" stroke-linejoin="round"/>
<path d="M11.7,-2.5 L17.5,-2.1 L22.7,-4.8 L28.6,-3.4 L33.7,-7.1 L39.7,-4.8" stroke="#1a3cc8" stroke-width="1.3" fill="none" stroke-linejoin="round"/>
<circle r="39" fill="none" stroke="#f0e860" stroke-width="1.8" stroke-dasharray="1.6,2.6"/>
<path d="M4.6,1.9 L11.9,-28.6 L-4.6,-1.9 Z" fill="#9a48cc"/>
<path d="M1.9,4.6 L28.6,-11.9 L-1.9,-4.6 Z" fill="#9a48cc"/>
<path d="M-1.9,4.6 L28.6,11.9 L1.9,-4.6 Z" fill="#9a48cc"/>
<path d="M-4.6,1.9 L11.9,28.6 L4.6,-1.9 Z" fill="#9a48cc"/>
<path d="M-4.6,-1.9 L-11.9,28.6 L4.6,1.9 Z" fill="#9a48cc"/>
<path d="M-1.9,-4.6 L-28.6,11.9 L1.9,4.6 Z" fill="#9a48cc"/>
<path d="M1.9,-4.6 L-28.6,-11.9 L-1.9,4.6 Z" fill="#9a48cc"/>
<path d="M4.6,-1.9 L-11.9,-28.6 L-4.6,1.9 Z" fill="#9a48cc"/>
<path d="M0,0 L-3.2,3.2 L28.3,28.3 Z" fill="#8e8e8e"/>
<path d="M0,0 L3.2,-3.2 L28.3,28.3 Z" fill="#a0a0a0"/>
<path d="M0,0 L28.3,28.3" stroke="#c88a2a" stroke-width="1.3"/>
<path d="M0,0 L-3.2,-3.2 L-28.3,28.3 Z" fill="#8e8e8e"/>
<path d="M0,0 L3.2,3.2 L-28.3,28.3 Z" fill="#a0a0a0"/>
<path d="M0,0 L-28.3,28.3" stroke="#c88a2a" stroke-width="1.3"/>
<path d="M0,0 L3.2,-3.2 L-28.3,-28.3 Z" fill="#8e8e8e"/>
<path d="M0,0 L-3.2,3.2 L-28.3,-28.3 Z" fill="#a0a0a0"/>
<path d="M0,0 L-28.3,-28.3" stroke="#c88a2a" stroke-width="1.3"/>
<path d="M0,0 L3.2,3.2 L28.3,-28.3 Z" fill="#8e8e8e"/>
<path d="M0,0 L-3.2,-3.2 L28.3,-28.3 Z" fill="#a0a0a0"/>
<path d="M0,0 L28.3,-28.3" stroke="#c88a2a" stroke-width="1.3"/>
<path d="M0,0 L0.0,6.5 L41.0,0.0 Z" fill="#c08428"/>
<path d="M0,0 L-0.0,-6.5 L41.0,0.0 Z" fill="#8c8c8c"/>
<path d="M0,0 L-6.5,0.0 L0.0,41.0 Z" fill="#c88a2a"/>
<path d="M0,0 L6.5,-0.0 L0.0,41.0 Z" fill="#8c8c8c"/>
<path d="M0,0 L-0.0,-6.5 L-41.0,0.0 Z" fill="#c88a2a"/>
<path d="M0,0 L0.0,6.5 L-41.0,0.0 Z" fill="#8c8c8c"/>
<path d="M0,0 L6.5,-0.0 L-0.0,-41.0 Z" fill="#d08a20"/>
<path d="M0,0 L-6.5,0.0 L-0.0,-41.0 Z" fill="#8a5a48"/>
<path d="M0,-61 Q-3.5,-55 -2.5,-50 Q-2,-47 -1.5,-45 L1.5,-45 Q2,-47 2.5,-50 Q3.5,-55 0,-61 Z" fill="#000"/>
<path d="M-1.5,-46 Q-4,-51 -8,-49.5 Q-10,-48 -8.5,-45.5 Q-7.5,-47.5 -5.5,-46.5 Q-4,-45 -3,-43 Z" fill="#000"/>
<path d="M1.5,-46 Q4,-51 8,-49.5 Q10,-48 8.5,-45.5 Q7.5,-47.5 5.5,-46.5 Q4,-45 3,-43 Z" fill="#000"/>
<rect x="-4.5" y="-44.5" width="9" height="2.2" fill="#000"/>
<path d="M-2,-42.5 L2,-42.5 L3,-38 L-3,-38 Z" fill="#000"/>
<path d="M-53,0 L-44,-4 L-44,4 Z M-44,-1.2 L-38,-1.2 L-38,1.2 L-44,1.2 Z" fill="#000"/>
<path d="M53,0 L44,-4 L44,4 Z M44,-1.2 L38,-1.2 L38,1.2 L44,1.2 Z" fill="#000"/>
<path d="M0,53 L-4,45 L4,45 Z M-1.5,38 L1.5,38 L1.5,46 L-1.5,46 Z" fill="#000"/>
<path d="M-5,43 L5,43 L0,47 Z" fill="#000"/>
</g>
<rect x="18" y="850" width="331.5" height="91.5" fill="#000" stroke="#000" stroke-width="4"/>
<rect x="20" y="852" width="327.5" height="87.5" fill="#ffcccc"/>
<path d="M20,876 L59,876 Q64,876 64,871 L64,860 Q64,855.5 69,855.5 L203,855.5 Q207.5,855.5 207.5,860 L207.5,870 Q207.5,874.5 212,874.5 L347.5,874.5 L347.5,939.5 L20,939.5 Z" fill="#ccffff"/>
<text x="23.5" y="872" font-family='"Liberation Sans", sans-serif' font-size="22.5" font-weight="normal" fill="#0000ff" textLength="36.5" lengthAdjust="spacingAndGlyphs">KEY</text>
<rect x="90" y="860" width="16" height="16" fill="#ffffcc"/>
<circle cx="98" cy="868" r="7" fill="#ffffcc" stroke="#000" stroke-width="2"/>
<text x="109.5" y="872" font-family='"Liberation Sans", sans-serif' font-size="11" font-weight="normal" fill="#000" textLength="83.5" lengthAdjust="spacingAndGlyphs">Exits Randomized</text>
<text x="242.4" y="862.4" font-family='"Liberation Sans", sans-serif' font-size="10.5" font-weight="normal" fill="#0000ff" textLength="101.3" lengthAdjust="spacingAndGlyphs">map created 2006 by</text>
<text x="242.4" y="871.6" font-family='"Liberation Sans", sans-serif' font-size="10.5" font-weight="normal" fill="#0000ff" textLength="100.0" lengthAdjust="spacingAndGlyphs">David Edward Garber</text>
<path d="M216,856.7 L226.8,856.7 L226.8,868.6 M215.6,856.7 L215.6,868.6" fill="none" stroke="#0000ff" stroke-width="1.3"/>
<circle cx="214.2" cy="858.3" r="1.5" fill="#ffcccc" stroke="#0000ff" stroke-width="1.1"/>
<rect x="213.6" y="868.6" width="14.6" height="2.8" rx="0.8" fill="#ffcccc" stroke="#0000ff" stroke-width="1.2"/>
<path d="M216.8,868.6 L216.8,871.4" stroke="#0000ff" stroke-width="1"/>
<path d="M218.5,861.3 L224.5,861.3 M217.8,864.5 L223.8,864.5 M221.8,859.3 L220.8,866.5" stroke="#0000ff" stroke-width="1.3"/>
<path d="M238.3,856.6 Q235,860 233.8,868" fill="none" stroke="#0000ff" stroke-width="1.6"/>
<path d="M238.3,856.6 Q238,862 235,866" fill="none" stroke="#6a6aff" stroke-width="0.9" stroke-dasharray="1,1"/>
<ellipse cx="234" cy="870.2" rx="2.8" ry="1.7" fill="#0000aa"/>
<rect x="24.2" y="880.2" width="15.6" height="15.6" fill="#000"/>
<rect x="25.2" y="881.2" width="13.6" height="13.6" fill="#008800"/>
<rect x="27.2" y="883.2" width="9.6" height="9.6" fill="#ffffcc"/>
<text x="43.3" y="891.5" font-family='"Liberation Sans", sans-serif' font-size="11" font-weight="normal" fill="#000" textLength="23.7" lengthAdjust="spacingAndGlyphs">Safe</text>
<rect x="24.2" y="900.2" width="15.6" height="15.6" fill="#000"/>
<rect x="25.2" y="901.2" width="13.6" height="13.6" fill="#888800"/>
<rect x="27.2" y="903.2" width="9.6" height="9.6" fill="#ffffcc"/>
<text x="43.3" y="911.5" font-family='"Liberation Sans", sans-serif' font-size="11" font-weight="normal" fill="#000" textLength="37.9" lengthAdjust="spacingAndGlyphs">Private</text>
<rect x="24.2" y="920.2" width="15.6" height="15.6" fill="#000"/>
<rect x="25.2" y="921.2" width="13.6" height="13.6" fill="#880000"/>
<rect x="27.2" y="923.2" width="9.6" height="9.6" fill="#ffffcc"/>
<text x="43.3" y="931.5" font-family='"Liberation Sans", sans-serif' font-size="11" font-weight="normal" fill="#000" textLength="36.2" lengthAdjust="spacingAndGlyphs">Cursed</text>
<rect x="91" y="881" width="14" height="14" fill="#00ff00" stroke="#000" stroke-width="2"/>
<text x="109.5" y="891.5" font-family='"Liberation Sans", sans-serif' font-size="11" font-weight="normal" fill="#000" textLength="23.7" lengthAdjust="spacingAndGlyphs">Land</text>
<rect x="91" y="901" width="14" height="14" fill="#00ffff" stroke="#000" stroke-width="2"/>
<text x="109.5" y="911.5" font-family='"Liberation Sans", sans-serif' font-size="11" font-weight="normal" fill="#000" textLength="29.3" lengthAdjust="spacingAndGlyphs">Water</text>
<rect x="91" y="921" width="14" height="14" fill="#ffffff" stroke="#000" stroke-width="2"/>
<text x="109.5" y="931.5" font-family='"Liberation Sans", sans-serif' font-size="11" font-weight="normal" fill="#000" textLength="13.5" lengthAdjust="spacingAndGlyphs">Air</text>
<rect x="148" y="880" width="16" height="16" fill="#ffffcc"/>
<path d="M155.3,880 L155.3,888 L148,888" fill="none" stroke="#000" stroke-width="2"/>
<path d="M155.3,888 L163,895.5" stroke="#000" stroke-width="2.2"/>
<text x="167.5" y="891.7" font-family='"Liberation Sans", sans-serif' font-size="11" font-weight="normal" fill="#000" textLength="35.5" lengthAdjust="spacingAndGlyphs">Exit: Up</text>
<rect x="148" y="900" width="16" height="16" fill="#ffffcc"/>
<path d="M155.3,900 L155.3,908 L148,908" fill="none" stroke="#000" stroke-width="2"/>
<path d="M155.3,908 L163,915.5" stroke="#000" stroke-width="2.6"/><path d="M155.3,908 L163,915.5" stroke="#fff" stroke-width="1"/>
<text x="167.5" y="911.7" font-family='"Liberation Sans", sans-serif' font-size="11" font-weight="normal" fill="#000" textLength="47.5" lengthAdjust="spacingAndGlyphs">Exit: Down</text>
<rect x="148" y="920" width="16" height="16" fill="#ffffcc"/>
<path d="M155.3,920 L155.3,928 L148,928" fill="none" stroke="#000" stroke-width="2"/>
<path d="M155.3,928 L163,935.5" stroke="#a03010" stroke-width="2.2"/>
<text x="167.5" y="931.7" font-family='"Liberation Sans", sans-serif' font-size="11" font-weight="normal" fill="#000" textLength="57.8" lengthAdjust="spacingAndGlyphs">Exit: Magical</text>
<rect x="234" y="880" width="16" height="16" fill="#ffffcc"/>
<path d="M234.5,888 L249.5,888" stroke="#000" stroke-width="2"/>
<path d="M242,883 L242,893" stroke="#000" stroke-width="2"/>
<text x="253.7" y="891.7" font-family='"Liberation Sans", sans-serif' font-size="11" font-weight="normal" fill="#000" textLength="88.7" lengthAdjust="spacingAndGlyphs">Door without Lock</text>
<rect x="234" y="900" width="16" height="16" fill="#ffffcc"/>
<path d="M234.5,908 L249.5,908" stroke="#000" stroke-width="2"/>
<path d="M242,903 L242,913" stroke="#ff00ff" stroke-width="2"/>
<text x="253.7" y="911.7" font-family='"Liberation Sans", sans-serif' font-size="11" font-weight="normal" fill="#000" textLength="71.0" lengthAdjust="spacingAndGlyphs">Door with Lock</text>
<rect x="234" y="920" width="16" height="16" fill="#ffffcc"/>
<path d="M234.5,928 L245,928" stroke="#000" stroke-width="2"/><path d="M244,923.5 L250,928 L244,932.5 Z" fill="#000"/>
<text x="253.7" y="931.7" font-family='"Liberation Sans", sans-serif' font-size="11" font-weight="normal" fill="#000" textLength="60.5" lengthAdjust="spacingAndGlyphs">One-Way Only</text>
<rect x="370" y="850" width="333" height="91.5" fill="#000" stroke="#000" stroke-width="4"/>
<rect x="372" y="852" width="329" height="87.5" fill="#ffcccc"/>
<path d="M372,875 L428,875 Q432.5,875 432.5,870.5 L432.5,858.5 Q432.5,854 437,854 L685,854 Q689,854 689,858 L689,870.5 Q689,875 693.5,875 L701,875 L701,939.5 L539,939.5 L539,883 Q539,879 535,879 Q531,879 531,883 L531,939.5 L372,939.5 Z" fill="#ccffff"/>
<text x="375.5" y="862.8" font-family='"Liberation Sans", sans-serif' font-size="9.8" font-weight="normal" fill="#0000ff" textLength="52.0" lengthAdjust="spacingAndGlyphs">Points of</text>
<text x="375.5" y="871.9" font-family='"Liberation Sans", sans-serif' font-size="9.8" font-weight="normal" fill="#0000ff" textLength="52.5" lengthAdjust="spacingAndGlyphs">Interest</text>
<rect x="435.5" y="854.5" width="9" height="10" fill="#ffffcc"/>
<path d="M440,856 L440,863 M436.8,859.5 L443.2,859.5" stroke="#990000" stroke-width="2"/>
<text x="445.6" y="863.2" font-family='"Liberation Mono", monospace' font-size="11.5" font-weight="normal" fill="#000" stroke="#000" stroke-width="0.35" textLength="35.4" lengthAdjust="spacingAndGlyphs">Healer</text>
<rect x="486.5" y="854.5" width="9" height="10" fill="#ffffcc"/>
<path d="M488.5,856 L493,856 L493,860.5 Q493,862 490.8,863.5 Q488.5,862 488.5,860.5 Z" fill="#ff9933" stroke="#b05000" stroke-width="1"/><rect x="490" y="864" width="1.8" height="1.6" fill="#b05000"/>
<text x="496.7" y="863.2" font-family='"Liberation Mono", monospace' font-size="11.5" font-weight="normal" fill="#000" stroke="#000" stroke-width="0.35" textLength="42.2" lengthAdjust="spacingAndGlyphs">Trainer</text>
<rect x="543.5" y="854.5" width="9" height="10" fill="#ffffcc"/>
<path d="M545,858 L551.5,858 M545,861.5 L551.5,861.5" stroke="#999900" stroke-width="1.6"/><path d="M545,858 l2,-2 M551.5,861.5 l-2,2" stroke="#999900" stroke-width="1.3"/>
<text x="553.3" y="863.2" font-family='"Liberation Mono", monospace' font-size="11.5" font-weight="normal" fill="#000" stroke="#000" stroke-width="0.35" textLength="70.1" lengthAdjust="spacingAndGlyphs">Shop(keeper)</text>
<rect x="627.5" y="854.5" width="9" height="10" fill="#ffffcc"/>
<text x="632" y="863" text-anchor="middle" font-family='"Liberation Sans", sans-serif' font-size="10" font-weight="bold" fill="#008800">$</text>
<text x="637.4" y="863.2" font-family='"Liberation Mono", monospace' font-size="11.5" font-weight="normal" fill="#000" stroke="#000" stroke-width="0.35" textLength="46.6" lengthAdjust="spacingAndGlyphs">Bank(er)</text>
<rect x="440.5" y="866.5" width="9" height="10" fill="#ffffcc"/>
<path d="M442,874.5 L449,874.5 L447.5,871 L443.5,871 Z M445.5,867.5 L445.5,871 M442.5,869 Q445.5,866 448.5,869" fill="#000080" stroke="#000080" stroke-width="1.4"/>
<text x="452.2" y="875.4" font-family='"Liberation Mono", monospace' font-size="11.5" font-weight="normal" fill="#000" stroke="#000" stroke-width="0.35" textLength="46.7" lengthAdjust="spacingAndGlyphs">Fountain</text>
<rect x="509" y="866.5" width="9" height="10" fill="#ffffcc"/>
<circle cx="512" cy="871" r="2" fill="none" stroke="#800080" stroke-width="1.6"/><path d="M514,871 L518,871 M516.5,871 L516.5,873 M518,871 L518,873" stroke="#800080" stroke-width="1.4"/>
<text x="519.5" y="875.4" font-family='"Liberation Mono", monospace' font-size="11.5" font-weight="normal" fill="#000" stroke="#000" stroke-width="0.35" textLength="18.3" lengthAdjust="spacingAndGlyphs">Key</text>
<rect x="549.5" y="866.5" width="8" height="10" fill="#ffffcc"/>
<text x="553.5" y="875" text-anchor="middle" font-family='"Liberation Sans", sans-serif' font-size="10" font-weight="bold" fill="#888888">?</text>
<text x="558.4" y="875.5" font-family='"Liberation Mono", monospace' font-size="11.5" font-weight="normal" fill="#000" stroke="#000" stroke-width="0.35" textLength="118.4" lengthAdjust="spacingAndGlyphs">Quest Character/Item</text>
<text x="693.5" y="862" text-anchor="middle" font-family='"Liberation Sans", sans-serif' font-size="9" fill="#0000ff">N</text>
<path d="M693.5,862 L693.5,866" stroke="#0000ff" stroke-width="1.4"/><path d="M693.5,866 L697,869.8 L693.5,873.6 L690,869.8 Z" fill="none" stroke="#0000ff" stroke-width="1.6"/>
<circle cx="536" cy="886" r="1.6" fill="#0000ff"/>
<circle cx="536" cy="897.8" r="1.6" fill="#0000ff"/>
<circle cx="536" cy="910" r="1.6" fill="#0000ff"/>
<circle cx="536" cy="921.8" r="1.6" fill="#0000ff"/>
<circle cx="536" cy="934" r="1.6" fill="#0000ff"/>
<rect x="376.2" y="904.3" width="7.5" height="7.4" fill="#00ff00"/>
<text x="380" y="911.3" text-anchor="middle" font-family='"Liberation Sans", sans-serif' font-size="9.5" font-weight="bold" fill="#800080" stroke="#800080" stroke-width="0.5">0</text>
<text x="387.5" y="911.5" font-family='"Liberation Mono", monospace' font-size="11.2" font-weight="normal" fill="#800080" stroke="#800080" stroke-width="0.35" textLength="70.5" lengthAdjust="spacingAndGlyphs">purple key</text>
<rect x="544" y="892.3" width="7.7" height="7.4" fill="#00ff00"/>
<text x="547.9" y="899.6" text-anchor="middle" font-family='"Liberation Sans", sans-serif' font-size="9.5" font-weight="bold" fill="#000" stroke="#000" stroke-width="0.6">1</text>
<text x="555.8" y="899.6" font-family='"Liberation Mono", monospace' font-size="11.2" font-weight="normal" fill="#000" stroke="#000" stroke-width="0.35" textLength="41.2" lengthAdjust="spacingAndGlyphs">Keeper</text>
<rect x="544" y="916" width="7.7" height="7.4" fill="#00ff00"/>
<text x="547.9" y="923.3" text-anchor="middle" font-family='"Liberation Sans", sans-serif' font-size="9.5" font-weight="bold" fill="#000" stroke="#000" stroke-width="0.6">2</text>
<text x="555.8" y="923.2" font-family='"Liberation Mono", monospace' font-size="11.2" font-weight="normal" fill="#000" stroke="#000" stroke-width="0.35" textLength="76.2" lengthAdjust="spacingAndGlyphs">Yog Sothoth</text>
</svg></body></html>
